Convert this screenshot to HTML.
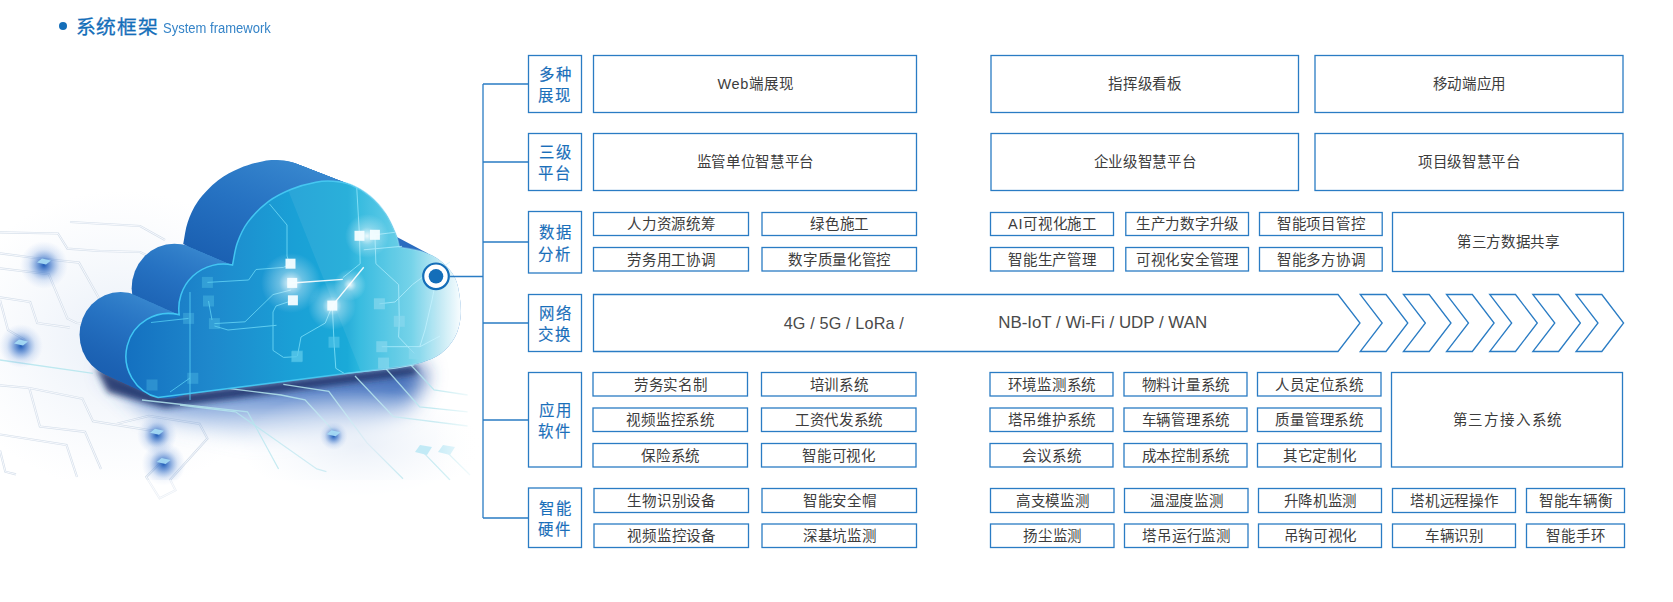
<!DOCTYPE html>
<html lang="zh-CN">
<head>
<meta charset="utf-8">
<style>
html,body{margin:0;padding:0;background:#fff;}
body{width:1673px;height:602px;position:relative;overflow:hidden;font-family:"Liberation Sans",sans-serif;}
svg{position:absolute;left:0;top:0;}
.t{position:absolute;display:flex;align-items:center;justify-content:center;padding-top:1px;box-sizing:border-box;color:#3c3c3c;font-size:14.5px;letter-spacing:0.7px;text-indent:0.7px;white-space:nowrap;line-height:1;}
.wide{letter-spacing:1.8px;text-indent:1.8px;}
.lb{position:absolute;color:#1a6fba;font-size:15.4px;line-height:21.5px;letter-spacing:2px;text-indent:2px;-webkit-text-stroke:0.15px #1a6fba;padding-top:2.5px;box-sizing:border-box;text-align:center;display:flex;align-items:center;justify-content:center;}
</style>
</head>
<body>
<svg width="480" height="602" viewBox="0 0 480 602">
<defs>
<linearGradient id="gBack" x1="90" y1="360" x2="360" y2="170" gradientUnits="userSpaceOnUse">
<stop offset="0" stop-color="#1b63b5"/><stop offset="0.55" stop-color="#1f6cbf"/><stop offset="1" stop-color="#3388cc"/>
</linearGradient>
<linearGradient id="gFace" x1="125" y1="0" x2="462" y2="0" gradientUnits="userSpaceOnUse">
<stop offset="0" stop-color="#1470c0"/><stop offset="0.25" stop-color="#1e88cc"/><stop offset="0.5" stop-color="#1aa0d6"/><stop offset="0.66" stop-color="#1aaad8"/><stop offset="0.7" stop-color="#2cb8de"/><stop offset="0.85" stop-color="#6cd0e8"/><stop offset="0.94" stop-color="#c4eaf5"/><stop offset="1" stop-color="#fbfeff"/>
</linearGradient>
<radialGradient id="gShadow" cx="0.5" cy="0.5" r="0.5">
<stop offset="0" stop-color="#2456a8" stop-opacity="0.95"/><stop offset="0.6" stop-color="#3a70c0" stop-opacity="0.5"/><stop offset="1" stop-color="#5a8ad0" stop-opacity="0"/>
</radialGradient>
<radialGradient id="gGlow" cx="0.5" cy="0.5" r="0.5">
<stop offset="0" stop-color="#1655b5" stop-opacity="0.95"/><stop offset="0.3" stop-color="#2a68c4" stop-opacity="0.6"/><stop offset="0.65" stop-color="#6090d8" stop-opacity="0.2"/><stop offset="1" stop-color="#90b0e8" stop-opacity="0"/>
</radialGradient>
<radialGradient id="gWGlow" cx="0.5" cy="0.5" r="0.5">
<stop offset="0" stop-color="#ffffff" stop-opacity="0.9"/><stop offset="0.4" stop-color="#ffffff" stop-opacity="0.35"/><stop offset="1" stop-color="#ffffff" stop-opacity="0"/>
</radialGradient>
<linearGradient id="gFade" x1="0" y1="0" x2="1" y2="0">
<stop offset="0" stop-color="#fff" stop-opacity="0"/><stop offset="1" stop-color="#fff" stop-opacity="1"/>
</linearGradient>
<filter id="blur3" x="-50%" y="-50%" width="200%" height="200%"><feGaussianBlur stdDeviation="3"/></filter>
<filter id="blur6" x="-50%" y="-100%" width="200%" height="300%"><feGaussianBlur stdDeviation="6"/></filter>
<filter id="blur10" x="-50%" y="-100%" width="200%" height="300%"><feGaussianBlur stdDeviation="10"/></filter>
</defs>
<radialGradient id="gWash" cx="0.5" cy="0.5" r="0.5"><stop offset="0" stop-color="#e6edf7" stop-opacity="0.9"/><stop offset="1" stop-color="#eef3fa" stop-opacity="0"/></radialGradient>
<ellipse cx="120" cy="340" rx="170" ry="150" fill="url(#gWash)"/>
<g fill="none" stroke="#d5dfea" stroke-width="2.2"><path d="M0,232.3 L58,233.5 L67.4,248.6 L100,251 L140,252 L160,262"/><path d="M70,222 L140,226 L165,240"/><path d="M0,253.3 L35,258 L79,262.6 L100,300 L118,303"/><path d="M0,268.4 L48.8,274.2 L67.4,318.4 L76.7,323 L95,325"/><path d="M0,297.4 L30.2,302 L37.2,323 L69.8,327.7"/><path d="M0,385.3 L29.3,388 L82.4,398.6 L93,421.2 L159.6,431.8"/><path d="M29.3,388 L39.9,426.5 L85,431.8 L101,469"/><path d="M0,434.5 L66.5,445 L77,477"/><path d="M0,450.4 L5.3,471.7 L16,474.4"/><path d="M117,423.8 L149,415.9 L199.5,423.8 L207.4,438.5 L170.2,479.7 L175.5,490.3 L159.6,498.3 L146.3,477 L162.2,461"/><path d="M0,300 L8,330 L25,340"/></g>
<g fill="none" stroke="#fafcff" stroke-width="0.9"><path d="M0,232.3 L58,233.5 L67.4,248.6 L100,251 L140,252 L160,262"/><path d="M70,222 L140,226 L165,240"/><path d="M0,253.3 L35,258 L79,262.6 L100,300 L118,303"/><path d="M0,268.4 L48.8,274.2 L67.4,318.4 L76.7,323 L95,325"/><path d="M0,297.4 L30.2,302 L37.2,323 L69.8,327.7"/><path d="M0,385.3 L29.3,388 L82.4,398.6 L93,421.2 L159.6,431.8"/><path d="M29.3,388 L39.9,426.5 L85,431.8 L101,469"/><path d="M0,434.5 L66.5,445 L77,477"/><path d="M0,450.4 L5.3,471.7 L16,474.4"/><path d="M117,423.8 L149,415.9 L199.5,423.8 L207.4,438.5 L170.2,479.7 L175.5,490.3 L159.6,498.3 L146.3,477 L162.2,461"/><path d="M0,300 L8,330 L25,340"/></g>
<linearGradient id="gSh" x1="0" y1="362" x2="0" y2="448" gradientUnits="userSpaceOnUse">
<stop offset="0" stop-color="#1e4594" stop-opacity="1"/><stop offset="0.3" stop-color="#3468bd" stop-opacity="0.9"/><stop offset="0.65" stop-color="#6a96d6" stop-opacity="0.5"/><stop offset="1" stop-color="#a0c0e8" stop-opacity="0"/>
</linearGradient>
<linearGradient id="gShX" x1="90" y1="0" x2="470" y2="0" gradientUnits="userSpaceOnUse">
<stop offset="0" stop-color="#fff" stop-opacity="1"/><stop offset="0.12" stop-color="#fff" stop-opacity="0"/><stop offset="0.85" stop-color="#fff" stop-opacity="0"/><stop offset="1" stop-color="#fff" stop-opacity="1"/>
</linearGradient>
<path d="M100,368 L160,394 L415,364 L428,372 L410,410 L360,432 L250,440 L150,415 Z" fill="url(#gSh)" filter="url(#blur10)"/>
<path d="M95,366 L160,396 L415,366 L418,374 L165,408 L108,392 Z" fill="#142a64" opacity="0.85" filter="url(#blur3)"/>
<g fill="none" stroke="#b4e6ee" stroke-width="1.3" opacity="0.85"><path d="M0,360 L93,373.3"/><path d="M142,400 L247.5,411.8 L278.6,469"/><path d="M223.5,387.8 L281,395 L305,399.8 L333.6,431"/><path d="M283.3,384.3 L328.8,391.4 L367,442.9 L403,478.8"/><path d="M355,376 L393.4,416.6 L467.6,426"/><path d="M386,368.7 L419.7,407 L467.6,411.8"/><path d="M410,364 L434,390 L467.6,395"/><path d="M180,405 L235.5,411.8 L316.8,469 L326.4,471.6"/><path d="M424.5,453.6 L450,480 M448.4,453.6 L470,475"/></g>
<ellipse cx="360" cy="445" rx="120" ry="55" fill="url(#gWash)" opacity="0.9"/>
<circle cx="44" cy="265" r="24" fill="url(#gGlow)"/>
<circle cx="21" cy="346" r="22" fill="url(#gGlow)"/>
<circle cx="157" cy="435" r="20" fill="url(#gGlow)"/>
<circle cx="163.6" cy="464" r="22" fill="url(#gGlow)"/>
<circle cx="333.6" cy="436" r="14" fill="url(#gGlow)"/>
<path d="M415,452 L420,445 L432,447 L427,455 Z M438,452 L443,445 L455,447 L450,455 Z" fill="#c2eaf6"/>
<path d="M37,262.5 L42,258.5 L51,260.5 L46,264.5 Z" fill="#a8def6" opacity="0.9"/>
<path d="M14,343.5 L19,339.5 L28,341.5 L23,345.5 Z" fill="#a8def6" opacity="0.9"/>
<path d="M150,432.8 L155,428.8 L164,430.8 L159,434.8 Z" fill="#a8def6" opacity="0.9"/>
<path d="M156.6,462 L161.6,458 L170.6,460 L165.6,464 Z" fill="#a8def6" opacity="0.9"/>
<path d="M326.6,434.3 L331.6,430.3 L340.6,432.3 L335.6,436.3 Z" fill="#a8def6" opacity="0.9"/>
<rect x="0" y="480" width="480" height="80" fill="#fff" opacity="0.5"/>
<rect x="432" y="340" width="48" height="200" fill="url(#gFade)"/>
<defs>
<linearGradient id="gCyl" x1="0.85" y1="0.05" x2="0.1" y2="0.95">
<stop offset="0" stop-color="#3a8ad0"/><stop offset="0.5" stop-color="#2672c2"/><stop offset="1" stop-color="#185cae"/>
</linearGradient></defs>
<g><g transform="matrix(0.9600,0,0,1,-40.00,-21.00)"><path fill="#1d64b4" d="M158.1,397.6 L167,356 L223,309 L320,290 L399.5,247.0 L405,365.9 Z"/><circle cx="167.2" cy="355.8" r="42.7" fill="url(#gCyl)"/><circle cx="223.4" cy="309.3" r="44.6" fill="url(#gCyl)"/><path d="M232.5,265.0 C234.1,257.8 234.7,250.4 237.2,243.3 C239.7,236.2 242.5,229.4 247.7,222.4 C252.9,215.4 261.3,206.9 268.6,201.4 C275.9,195.9 283.4,192.4 291.3,189.2 C299.2,186.0 308.8,183.5 315.8,182.2 C322.8,180.9 327.4,180.9 333.2,181.3 C339.0,181.7 344.6,182.3 350.7,184.8 C356.8,187.3 364.1,191.4 369.9,196.2 C375.7,201.0 381.2,207.2 385.6,213.6 C390.0,220.0 393.7,229.0 396.0,234.6 C398.3,240.2 398.3,242.9 399.5,247.0 L320,300 Z" fill="url(#gCyl)"/><path d="M399.5,247.0 C408.0,248.8 417.8,249.8 424.9,252.4 C432.0,255.0 437.4,258.2 442.4,262.4 C447.4,266.6 451.9,271.6 454.8,277.4 C457.7,283.2 458.9,290.5 459.8,297.3 C460.8,304.1 461.3,311.4 460.5,318.0 C459.7,324.6 458.2,331.1 455.0,337.0 C451.8,342.9 446.4,349.3 441.0,353.5 C435.6,357.7 428.4,360.1 422.4,362.2 C416.4,364.3 410.8,364.7 405.0,365.9 L380,330 Z" fill="url(#gCyl)"/></g><g transform="matrix(0.9610,0,0,1,-38.97,-20.46)"><path fill="#1d64b4" d="M158.1,397.6 L167,356 L223,309 L320,290 L399.5,247.0 L405,365.9 Z"/><circle cx="167.2" cy="355.8" r="42.7" fill="url(#gCyl)"/><circle cx="223.4" cy="309.3" r="44.6" fill="url(#gCyl)"/><path d="M232.5,265.0 C234.1,257.8 234.7,250.4 237.2,243.3 C239.7,236.2 242.5,229.4 247.7,222.4 C252.9,215.4 261.3,206.9 268.6,201.4 C275.9,195.9 283.4,192.4 291.3,189.2 C299.2,186.0 308.8,183.5 315.8,182.2 C322.8,180.9 327.4,180.9 333.2,181.3 C339.0,181.7 344.6,182.3 350.7,184.8 C356.8,187.3 364.1,191.4 369.9,196.2 C375.7,201.0 381.2,207.2 385.6,213.6 C390.0,220.0 393.7,229.0 396.0,234.6 C398.3,240.2 398.3,242.9 399.5,247.0 L320,300 Z" fill="url(#gCyl)"/><path d="M399.5,247.0 C408.0,248.8 417.8,249.8 424.9,252.4 C432.0,255.0 437.4,258.2 442.4,262.4 C447.4,266.6 451.9,271.6 454.8,277.4 C457.7,283.2 458.9,290.5 459.8,297.3 C460.8,304.1 461.3,311.4 460.5,318.0 C459.7,324.6 458.2,331.1 455.0,337.0 C451.8,342.9 446.4,349.3 441.0,353.5 C435.6,357.7 428.4,360.1 422.4,362.2 C416.4,364.3 410.8,364.7 405.0,365.9 L380,330 Z" fill="url(#gCyl)"/></g><g transform="matrix(0.9621,0,0,1,-37.95,-19.92)"><path fill="#1d64b4" d="M158.1,397.6 L167,356 L223,309 L320,290 L399.5,247.0 L405,365.9 Z"/><circle cx="167.2" cy="355.8" r="42.7" fill="url(#gCyl)"/><circle cx="223.4" cy="309.3" r="44.6" fill="url(#gCyl)"/><path d="M232.5,265.0 C234.1,257.8 234.7,250.4 237.2,243.3 C239.7,236.2 242.5,229.4 247.7,222.4 C252.9,215.4 261.3,206.9 268.6,201.4 C275.9,195.9 283.4,192.4 291.3,189.2 C299.2,186.0 308.8,183.5 315.8,182.2 C322.8,180.9 327.4,180.9 333.2,181.3 C339.0,181.7 344.6,182.3 350.7,184.8 C356.8,187.3 364.1,191.4 369.9,196.2 C375.7,201.0 381.2,207.2 385.6,213.6 C390.0,220.0 393.7,229.0 396.0,234.6 C398.3,240.2 398.3,242.9 399.5,247.0 L320,300 Z" fill="url(#gCyl)"/><path d="M399.5,247.0 C408.0,248.8 417.8,249.8 424.9,252.4 C432.0,255.0 437.4,258.2 442.4,262.4 C447.4,266.6 451.9,271.6 454.8,277.4 C457.7,283.2 458.9,290.5 459.8,297.3 C460.8,304.1 461.3,311.4 460.5,318.0 C459.7,324.6 458.2,331.1 455.0,337.0 C451.8,342.9 446.4,349.3 441.0,353.5 C435.6,357.7 428.4,360.1 422.4,362.2 C416.4,364.3 410.8,364.7 405.0,365.9 L380,330 Z" fill="url(#gCyl)"/></g><g transform="matrix(0.9631,0,0,1,-36.92,-19.38)"><path fill="#1d64b4" d="M158.1,397.6 L167,356 L223,309 L320,290 L399.5,247.0 L405,365.9 Z"/><circle cx="167.2" cy="355.8" r="42.7" fill="url(#gCyl)"/><circle cx="223.4" cy="309.3" r="44.6" fill="url(#gCyl)"/><path d="M232.5,265.0 C234.1,257.8 234.7,250.4 237.2,243.3 C239.7,236.2 242.5,229.4 247.7,222.4 C252.9,215.4 261.3,206.9 268.6,201.4 C275.9,195.9 283.4,192.4 291.3,189.2 C299.2,186.0 308.8,183.5 315.8,182.2 C322.8,180.9 327.4,180.9 333.2,181.3 C339.0,181.7 344.6,182.3 350.7,184.8 C356.8,187.3 364.1,191.4 369.9,196.2 C375.7,201.0 381.2,207.2 385.6,213.6 C390.0,220.0 393.7,229.0 396.0,234.6 C398.3,240.2 398.3,242.9 399.5,247.0 L320,300 Z" fill="url(#gCyl)"/><path d="M399.5,247.0 C408.0,248.8 417.8,249.8 424.9,252.4 C432.0,255.0 437.4,258.2 442.4,262.4 C447.4,266.6 451.9,271.6 454.8,277.4 C457.7,283.2 458.9,290.5 459.8,297.3 C460.8,304.1 461.3,311.4 460.5,318.0 C459.7,324.6 458.2,331.1 455.0,337.0 C451.8,342.9 446.4,349.3 441.0,353.5 C435.6,357.7 428.4,360.1 422.4,362.2 C416.4,364.3 410.8,364.7 405.0,365.9 L380,330 Z" fill="url(#gCyl)"/></g><g transform="matrix(0.9641,0,0,1,-35.90,-18.85)"><path fill="#1d64b4" d="M158.1,397.6 L167,356 L223,309 L320,290 L399.5,247.0 L405,365.9 Z"/><circle cx="167.2" cy="355.8" r="42.7" fill="url(#gCyl)"/><circle cx="223.4" cy="309.3" r="44.6" fill="url(#gCyl)"/><path d="M232.5,265.0 C234.1,257.8 234.7,250.4 237.2,243.3 C239.7,236.2 242.5,229.4 247.7,222.4 C252.9,215.4 261.3,206.9 268.6,201.4 C275.9,195.9 283.4,192.4 291.3,189.2 C299.2,186.0 308.8,183.5 315.8,182.2 C322.8,180.9 327.4,180.9 333.2,181.3 C339.0,181.7 344.6,182.3 350.7,184.8 C356.8,187.3 364.1,191.4 369.9,196.2 C375.7,201.0 381.2,207.2 385.6,213.6 C390.0,220.0 393.7,229.0 396.0,234.6 C398.3,240.2 398.3,242.9 399.5,247.0 L320,300 Z" fill="url(#gCyl)"/><path d="M399.5,247.0 C408.0,248.8 417.8,249.8 424.9,252.4 C432.0,255.0 437.4,258.2 442.4,262.4 C447.4,266.6 451.9,271.6 454.8,277.4 C457.7,283.2 458.9,290.5 459.8,297.3 C460.8,304.1 461.3,311.4 460.5,318.0 C459.7,324.6 458.2,331.1 455.0,337.0 C451.8,342.9 446.4,349.3 441.0,353.5 C435.6,357.7 428.4,360.1 422.4,362.2 C416.4,364.3 410.8,364.7 405.0,365.9 L380,330 Z" fill="url(#gCyl)"/></g><g transform="matrix(0.9651,0,0,1,-34.87,-18.31)"><path fill="#1d64b4" d="M158.1,397.6 L167,356 L223,309 L320,290 L399.5,247.0 L405,365.9 Z"/><circle cx="167.2" cy="355.8" r="42.7" fill="url(#gCyl)"/><circle cx="223.4" cy="309.3" r="44.6" fill="url(#gCyl)"/><path d="M232.5,265.0 C234.1,257.8 234.7,250.4 237.2,243.3 C239.7,236.2 242.5,229.4 247.7,222.4 C252.9,215.4 261.3,206.9 268.6,201.4 C275.9,195.9 283.4,192.4 291.3,189.2 C299.2,186.0 308.8,183.5 315.8,182.2 C322.8,180.9 327.4,180.9 333.2,181.3 C339.0,181.7 344.6,182.3 350.7,184.8 C356.8,187.3 364.1,191.4 369.9,196.2 C375.7,201.0 381.2,207.2 385.6,213.6 C390.0,220.0 393.7,229.0 396.0,234.6 C398.3,240.2 398.3,242.9 399.5,247.0 L320,300 Z" fill="url(#gCyl)"/><path d="M399.5,247.0 C408.0,248.8 417.8,249.8 424.9,252.4 C432.0,255.0 437.4,258.2 442.4,262.4 C447.4,266.6 451.9,271.6 454.8,277.4 C457.7,283.2 458.9,290.5 459.8,297.3 C460.8,304.1 461.3,311.4 460.5,318.0 C459.7,324.6 458.2,331.1 455.0,337.0 C451.8,342.9 446.4,349.3 441.0,353.5 C435.6,357.7 428.4,360.1 422.4,362.2 C416.4,364.3 410.8,364.7 405.0,365.9 L380,330 Z" fill="url(#gCyl)"/></g><g transform="matrix(0.9662,0,0,1,-33.85,-17.77)"><path fill="#1d64b4" d="M158.1,397.6 L167,356 L223,309 L320,290 L399.5,247.0 L405,365.9 Z"/><circle cx="167.2" cy="355.8" r="42.7" fill="url(#gCyl)"/><circle cx="223.4" cy="309.3" r="44.6" fill="url(#gCyl)"/><path d="M232.5,265.0 C234.1,257.8 234.7,250.4 237.2,243.3 C239.7,236.2 242.5,229.4 247.7,222.4 C252.9,215.4 261.3,206.9 268.6,201.4 C275.9,195.9 283.4,192.4 291.3,189.2 C299.2,186.0 308.8,183.5 315.8,182.2 C322.8,180.9 327.4,180.9 333.2,181.3 C339.0,181.7 344.6,182.3 350.7,184.8 C356.8,187.3 364.1,191.4 369.9,196.2 C375.7,201.0 381.2,207.2 385.6,213.6 C390.0,220.0 393.7,229.0 396.0,234.6 C398.3,240.2 398.3,242.9 399.5,247.0 L320,300 Z" fill="url(#gCyl)"/><path d="M399.5,247.0 C408.0,248.8 417.8,249.8 424.9,252.4 C432.0,255.0 437.4,258.2 442.4,262.4 C447.4,266.6 451.9,271.6 454.8,277.4 C457.7,283.2 458.9,290.5 459.8,297.3 C460.8,304.1 461.3,311.4 460.5,318.0 C459.7,324.6 458.2,331.1 455.0,337.0 C451.8,342.9 446.4,349.3 441.0,353.5 C435.6,357.7 428.4,360.1 422.4,362.2 C416.4,364.3 410.8,364.7 405.0,365.9 L380,330 Z" fill="url(#gCyl)"/></g><g transform="matrix(0.9672,0,0,1,-32.82,-17.23)"><path fill="#1d64b4" d="M158.1,397.6 L167,356 L223,309 L320,290 L399.5,247.0 L405,365.9 Z"/><circle cx="167.2" cy="355.8" r="42.7" fill="url(#gCyl)"/><circle cx="223.4" cy="309.3" r="44.6" fill="url(#gCyl)"/><path d="M232.5,265.0 C234.1,257.8 234.7,250.4 237.2,243.3 C239.7,236.2 242.5,229.4 247.7,222.4 C252.9,215.4 261.3,206.9 268.6,201.4 C275.9,195.9 283.4,192.4 291.3,189.2 C299.2,186.0 308.8,183.5 315.8,182.2 C322.8,180.9 327.4,180.9 333.2,181.3 C339.0,181.7 344.6,182.3 350.7,184.8 C356.8,187.3 364.1,191.4 369.9,196.2 C375.7,201.0 381.2,207.2 385.6,213.6 C390.0,220.0 393.7,229.0 396.0,234.6 C398.3,240.2 398.3,242.9 399.5,247.0 L320,300 Z" fill="url(#gCyl)"/><path d="M399.5,247.0 C408.0,248.8 417.8,249.8 424.9,252.4 C432.0,255.0 437.4,258.2 442.4,262.4 C447.4,266.6 451.9,271.6 454.8,277.4 C457.7,283.2 458.9,290.5 459.8,297.3 C460.8,304.1 461.3,311.4 460.5,318.0 C459.7,324.6 458.2,331.1 455.0,337.0 C451.8,342.9 446.4,349.3 441.0,353.5 C435.6,357.7 428.4,360.1 422.4,362.2 C416.4,364.3 410.8,364.7 405.0,365.9 L380,330 Z" fill="url(#gCyl)"/></g><g transform="matrix(0.9682,0,0,1,-31.79,-16.69)"><path fill="#1d64b4" d="M158.1,397.6 L167,356 L223,309 L320,290 L399.5,247.0 L405,365.9 Z"/><circle cx="167.2" cy="355.8" r="42.7" fill="url(#gCyl)"/><circle cx="223.4" cy="309.3" r="44.6" fill="url(#gCyl)"/><path d="M232.5,265.0 C234.1,257.8 234.7,250.4 237.2,243.3 C239.7,236.2 242.5,229.4 247.7,222.4 C252.9,215.4 261.3,206.9 268.6,201.4 C275.9,195.9 283.4,192.4 291.3,189.2 C299.2,186.0 308.8,183.5 315.8,182.2 C322.8,180.9 327.4,180.9 333.2,181.3 C339.0,181.7 344.6,182.3 350.7,184.8 C356.8,187.3 364.1,191.4 369.9,196.2 C375.7,201.0 381.2,207.2 385.6,213.6 C390.0,220.0 393.7,229.0 396.0,234.6 C398.3,240.2 398.3,242.9 399.5,247.0 L320,300 Z" fill="url(#gCyl)"/><path d="M399.5,247.0 C408.0,248.8 417.8,249.8 424.9,252.4 C432.0,255.0 437.4,258.2 442.4,262.4 C447.4,266.6 451.9,271.6 454.8,277.4 C457.7,283.2 458.9,290.5 459.8,297.3 C460.8,304.1 461.3,311.4 460.5,318.0 C459.7,324.6 458.2,331.1 455.0,337.0 C451.8,342.9 446.4,349.3 441.0,353.5 C435.6,357.7 428.4,360.1 422.4,362.2 C416.4,364.3 410.8,364.7 405.0,365.9 L380,330 Z" fill="url(#gCyl)"/></g><g transform="matrix(0.9692,0,0,1,-30.77,-16.15)"><path fill="#1d64b4" d="M158.1,397.6 L167,356 L223,309 L320,290 L399.5,247.0 L405,365.9 Z"/><circle cx="167.2" cy="355.8" r="42.7" fill="url(#gCyl)"/><circle cx="223.4" cy="309.3" r="44.6" fill="url(#gCyl)"/><path d="M232.5,265.0 C234.1,257.8 234.7,250.4 237.2,243.3 C239.7,236.2 242.5,229.4 247.7,222.4 C252.9,215.4 261.3,206.9 268.6,201.4 C275.9,195.9 283.4,192.4 291.3,189.2 C299.2,186.0 308.8,183.5 315.8,182.2 C322.8,180.9 327.4,180.9 333.2,181.3 C339.0,181.7 344.6,182.3 350.7,184.8 C356.8,187.3 364.1,191.4 369.9,196.2 C375.7,201.0 381.2,207.2 385.6,213.6 C390.0,220.0 393.7,229.0 396.0,234.6 C398.3,240.2 398.3,242.9 399.5,247.0 L320,300 Z" fill="url(#gCyl)"/><path d="M399.5,247.0 C408.0,248.8 417.8,249.8 424.9,252.4 C432.0,255.0 437.4,258.2 442.4,262.4 C447.4,266.6 451.9,271.6 454.8,277.4 C457.7,283.2 458.9,290.5 459.8,297.3 C460.8,304.1 461.3,311.4 460.5,318.0 C459.7,324.6 458.2,331.1 455.0,337.0 C451.8,342.9 446.4,349.3 441.0,353.5 C435.6,357.7 428.4,360.1 422.4,362.2 C416.4,364.3 410.8,364.7 405.0,365.9 L380,330 Z" fill="url(#gCyl)"/></g><g transform="matrix(0.9703,0,0,1,-29.74,-15.62)"><path fill="#1d64b4" d="M158.1,397.6 L167,356 L223,309 L320,290 L399.5,247.0 L405,365.9 Z"/><circle cx="167.2" cy="355.8" r="42.7" fill="url(#gCyl)"/><circle cx="223.4" cy="309.3" r="44.6" fill="url(#gCyl)"/><path d="M232.5,265.0 C234.1,257.8 234.7,250.4 237.2,243.3 C239.7,236.2 242.5,229.4 247.7,222.4 C252.9,215.4 261.3,206.9 268.6,201.4 C275.9,195.9 283.4,192.4 291.3,189.2 C299.2,186.0 308.8,183.5 315.8,182.2 C322.8,180.9 327.4,180.9 333.2,181.3 C339.0,181.7 344.6,182.3 350.7,184.8 C356.8,187.3 364.1,191.4 369.9,196.2 C375.7,201.0 381.2,207.2 385.6,213.6 C390.0,220.0 393.7,229.0 396.0,234.6 C398.3,240.2 398.3,242.9 399.5,247.0 L320,300 Z" fill="url(#gCyl)"/><path d="M399.5,247.0 C408.0,248.8 417.8,249.8 424.9,252.4 C432.0,255.0 437.4,258.2 442.4,262.4 C447.4,266.6 451.9,271.6 454.8,277.4 C457.7,283.2 458.9,290.5 459.8,297.3 C460.8,304.1 461.3,311.4 460.5,318.0 C459.7,324.6 458.2,331.1 455.0,337.0 C451.8,342.9 446.4,349.3 441.0,353.5 C435.6,357.7 428.4,360.1 422.4,362.2 C416.4,364.3 410.8,364.7 405.0,365.9 L380,330 Z" fill="url(#gCyl)"/></g><g transform="matrix(0.9713,0,0,1,-28.72,-15.08)"><path fill="#1d64b4" d="M158.1,397.6 L167,356 L223,309 L320,290 L399.5,247.0 L405,365.9 Z"/><circle cx="167.2" cy="355.8" r="42.7" fill="url(#gCyl)"/><circle cx="223.4" cy="309.3" r="44.6" fill="url(#gCyl)"/><path d="M232.5,265.0 C234.1,257.8 234.7,250.4 237.2,243.3 C239.7,236.2 242.5,229.4 247.7,222.4 C252.9,215.4 261.3,206.9 268.6,201.4 C275.9,195.9 283.4,192.4 291.3,189.2 C299.2,186.0 308.8,183.5 315.8,182.2 C322.8,180.9 327.4,180.9 333.2,181.3 C339.0,181.7 344.6,182.3 350.7,184.8 C356.8,187.3 364.1,191.4 369.9,196.2 C375.7,201.0 381.2,207.2 385.6,213.6 C390.0,220.0 393.7,229.0 396.0,234.6 C398.3,240.2 398.3,242.9 399.5,247.0 L320,300 Z" fill="url(#gCyl)"/><path d="M399.5,247.0 C408.0,248.8 417.8,249.8 424.9,252.4 C432.0,255.0 437.4,258.2 442.4,262.4 C447.4,266.6 451.9,271.6 454.8,277.4 C457.7,283.2 458.9,290.5 459.8,297.3 C460.8,304.1 461.3,311.4 460.5,318.0 C459.7,324.6 458.2,331.1 455.0,337.0 C451.8,342.9 446.4,349.3 441.0,353.5 C435.6,357.7 428.4,360.1 422.4,362.2 C416.4,364.3 410.8,364.7 405.0,365.9 L380,330 Z" fill="url(#gCyl)"/></g><g transform="matrix(0.9723,0,0,1,-27.69,-14.54)"><path fill="#1d64b4" d="M158.1,397.6 L167,356 L223,309 L320,290 L399.5,247.0 L405,365.9 Z"/><circle cx="167.2" cy="355.8" r="42.7" fill="url(#gCyl)"/><circle cx="223.4" cy="309.3" r="44.6" fill="url(#gCyl)"/><path d="M232.5,265.0 C234.1,257.8 234.7,250.4 237.2,243.3 C239.7,236.2 242.5,229.4 247.7,222.4 C252.9,215.4 261.3,206.9 268.6,201.4 C275.9,195.9 283.4,192.4 291.3,189.2 C299.2,186.0 308.8,183.5 315.8,182.2 C322.8,180.9 327.4,180.9 333.2,181.3 C339.0,181.7 344.6,182.3 350.7,184.8 C356.8,187.3 364.1,191.4 369.9,196.2 C375.7,201.0 381.2,207.2 385.6,213.6 C390.0,220.0 393.7,229.0 396.0,234.6 C398.3,240.2 398.3,242.9 399.5,247.0 L320,300 Z" fill="url(#gCyl)"/><path d="M399.5,247.0 C408.0,248.8 417.8,249.8 424.9,252.4 C432.0,255.0 437.4,258.2 442.4,262.4 C447.4,266.6 451.9,271.6 454.8,277.4 C457.7,283.2 458.9,290.5 459.8,297.3 C460.8,304.1 461.3,311.4 460.5,318.0 C459.7,324.6 458.2,331.1 455.0,337.0 C451.8,342.9 446.4,349.3 441.0,353.5 C435.6,357.7 428.4,360.1 422.4,362.2 C416.4,364.3 410.8,364.7 405.0,365.9 L380,330 Z" fill="url(#gCyl)"/></g><g transform="matrix(0.9733,0,0,1,-26.67,-14.00)"><path fill="#1d64b4" d="M158.1,397.6 L167,356 L223,309 L320,290 L399.5,247.0 L405,365.9 Z"/><circle cx="167.2" cy="355.8" r="42.7" fill="url(#gCyl)"/><circle cx="223.4" cy="309.3" r="44.6" fill="url(#gCyl)"/><path d="M232.5,265.0 C234.1,257.8 234.7,250.4 237.2,243.3 C239.7,236.2 242.5,229.4 247.7,222.4 C252.9,215.4 261.3,206.9 268.6,201.4 C275.9,195.9 283.4,192.4 291.3,189.2 C299.2,186.0 308.8,183.5 315.8,182.2 C322.8,180.9 327.4,180.9 333.2,181.3 C339.0,181.7 344.6,182.3 350.7,184.8 C356.8,187.3 364.1,191.4 369.9,196.2 C375.7,201.0 381.2,207.2 385.6,213.6 C390.0,220.0 393.7,229.0 396.0,234.6 C398.3,240.2 398.3,242.9 399.5,247.0 L320,300 Z" fill="url(#gCyl)"/><path d="M399.5,247.0 C408.0,248.8 417.8,249.8 424.9,252.4 C432.0,255.0 437.4,258.2 442.4,262.4 C447.4,266.6 451.9,271.6 454.8,277.4 C457.7,283.2 458.9,290.5 459.8,297.3 C460.8,304.1 461.3,311.4 460.5,318.0 C459.7,324.6 458.2,331.1 455.0,337.0 C451.8,342.9 446.4,349.3 441.0,353.5 C435.6,357.7 428.4,360.1 422.4,362.2 C416.4,364.3 410.8,364.7 405.0,365.9 L380,330 Z" fill="url(#gCyl)"/></g><g transform="matrix(0.9744,0,0,1,-25.64,-13.46)"><path fill="#1d64b4" d="M158.1,397.6 L167,356 L223,309 L320,290 L399.5,247.0 L405,365.9 Z"/><circle cx="167.2" cy="355.8" r="42.7" fill="url(#gCyl)"/><circle cx="223.4" cy="309.3" r="44.6" fill="url(#gCyl)"/><path d="M232.5,265.0 C234.1,257.8 234.7,250.4 237.2,243.3 C239.7,236.2 242.5,229.4 247.7,222.4 C252.9,215.4 261.3,206.9 268.6,201.4 C275.9,195.9 283.4,192.4 291.3,189.2 C299.2,186.0 308.8,183.5 315.8,182.2 C322.8,180.9 327.4,180.9 333.2,181.3 C339.0,181.7 344.6,182.3 350.7,184.8 C356.8,187.3 364.1,191.4 369.9,196.2 C375.7,201.0 381.2,207.2 385.6,213.6 C390.0,220.0 393.7,229.0 396.0,234.6 C398.3,240.2 398.3,242.9 399.5,247.0 L320,300 Z" fill="url(#gCyl)"/><path d="M399.5,247.0 C408.0,248.8 417.8,249.8 424.9,252.4 C432.0,255.0 437.4,258.2 442.4,262.4 C447.4,266.6 451.9,271.6 454.8,277.4 C457.7,283.2 458.9,290.5 459.8,297.3 C460.8,304.1 461.3,311.4 460.5,318.0 C459.7,324.6 458.2,331.1 455.0,337.0 C451.8,342.9 446.4,349.3 441.0,353.5 C435.6,357.7 428.4,360.1 422.4,362.2 C416.4,364.3 410.8,364.7 405.0,365.9 L380,330 Z" fill="url(#gCyl)"/></g><g transform="matrix(0.9754,0,0,1,-24.62,-12.92)"><path fill="#1d64b4" d="M158.1,397.6 L167,356 L223,309 L320,290 L399.5,247.0 L405,365.9 Z"/><circle cx="167.2" cy="355.8" r="42.7" fill="url(#gCyl)"/><circle cx="223.4" cy="309.3" r="44.6" fill="url(#gCyl)"/><path d="M232.5,265.0 C234.1,257.8 234.7,250.4 237.2,243.3 C239.7,236.2 242.5,229.4 247.7,222.4 C252.9,215.4 261.3,206.9 268.6,201.4 C275.9,195.9 283.4,192.4 291.3,189.2 C299.2,186.0 308.8,183.5 315.8,182.2 C322.8,180.9 327.4,180.9 333.2,181.3 C339.0,181.7 344.6,182.3 350.7,184.8 C356.8,187.3 364.1,191.4 369.9,196.2 C375.7,201.0 381.2,207.2 385.6,213.6 C390.0,220.0 393.7,229.0 396.0,234.6 C398.3,240.2 398.3,242.9 399.5,247.0 L320,300 Z" fill="url(#gCyl)"/><path d="M399.5,247.0 C408.0,248.8 417.8,249.8 424.9,252.4 C432.0,255.0 437.4,258.2 442.4,262.4 C447.4,266.6 451.9,271.6 454.8,277.4 C457.7,283.2 458.9,290.5 459.8,297.3 C460.8,304.1 461.3,311.4 460.5,318.0 C459.7,324.6 458.2,331.1 455.0,337.0 C451.8,342.9 446.4,349.3 441.0,353.5 C435.6,357.7 428.4,360.1 422.4,362.2 C416.4,364.3 410.8,364.7 405.0,365.9 L380,330 Z" fill="url(#gCyl)"/></g><g transform="matrix(0.9764,0,0,1,-23.59,-12.38)"><path fill="#1d64b4" d="M158.1,397.6 L167,356 L223,309 L320,290 L399.5,247.0 L405,365.9 Z"/><circle cx="167.2" cy="355.8" r="42.7" fill="url(#gCyl)"/><circle cx="223.4" cy="309.3" r="44.6" fill="url(#gCyl)"/><path d="M232.5,265.0 C234.1,257.8 234.7,250.4 237.2,243.3 C239.7,236.2 242.5,229.4 247.7,222.4 C252.9,215.4 261.3,206.9 268.6,201.4 C275.9,195.9 283.4,192.4 291.3,189.2 C299.2,186.0 308.8,183.5 315.8,182.2 C322.8,180.9 327.4,180.9 333.2,181.3 C339.0,181.7 344.6,182.3 350.7,184.8 C356.8,187.3 364.1,191.4 369.9,196.2 C375.7,201.0 381.2,207.2 385.6,213.6 C390.0,220.0 393.7,229.0 396.0,234.6 C398.3,240.2 398.3,242.9 399.5,247.0 L320,300 Z" fill="url(#gCyl)"/><path d="M399.5,247.0 C408.0,248.8 417.8,249.8 424.9,252.4 C432.0,255.0 437.4,258.2 442.4,262.4 C447.4,266.6 451.9,271.6 454.8,277.4 C457.7,283.2 458.9,290.5 459.8,297.3 C460.8,304.1 461.3,311.4 460.5,318.0 C459.7,324.6 458.2,331.1 455.0,337.0 C451.8,342.9 446.4,349.3 441.0,353.5 C435.6,357.7 428.4,360.1 422.4,362.2 C416.4,364.3 410.8,364.7 405.0,365.9 L380,330 Z" fill="url(#gCyl)"/></g><g transform="matrix(0.9774,0,0,1,-22.56,-11.85)"><path fill="#1d64b4" d="M158.1,397.6 L167,356 L223,309 L320,290 L399.5,247.0 L405,365.9 Z"/><circle cx="167.2" cy="355.8" r="42.7" fill="url(#gCyl)"/><circle cx="223.4" cy="309.3" r="44.6" fill="url(#gCyl)"/><path d="M232.5,265.0 C234.1,257.8 234.7,250.4 237.2,243.3 C239.7,236.2 242.5,229.4 247.7,222.4 C252.9,215.4 261.3,206.9 268.6,201.4 C275.9,195.9 283.4,192.4 291.3,189.2 C299.2,186.0 308.8,183.5 315.8,182.2 C322.8,180.9 327.4,180.9 333.2,181.3 C339.0,181.7 344.6,182.3 350.7,184.8 C356.8,187.3 364.1,191.4 369.9,196.2 C375.7,201.0 381.2,207.2 385.6,213.6 C390.0,220.0 393.7,229.0 396.0,234.6 C398.3,240.2 398.3,242.9 399.5,247.0 L320,300 Z" fill="url(#gCyl)"/><path d="M399.5,247.0 C408.0,248.8 417.8,249.8 424.9,252.4 C432.0,255.0 437.4,258.2 442.4,262.4 C447.4,266.6 451.9,271.6 454.8,277.4 C457.7,283.2 458.9,290.5 459.8,297.3 C460.8,304.1 461.3,311.4 460.5,318.0 C459.7,324.6 458.2,331.1 455.0,337.0 C451.8,342.9 446.4,349.3 441.0,353.5 C435.6,357.7 428.4,360.1 422.4,362.2 C416.4,364.3 410.8,364.7 405.0,365.9 L380,330 Z" fill="url(#gCyl)"/></g><g transform="matrix(0.9785,0,0,1,-21.54,-11.31)"><path fill="#1d64b4" d="M158.1,397.6 L167,356 L223,309 L320,290 L399.5,247.0 L405,365.9 Z"/><circle cx="167.2" cy="355.8" r="42.7" fill="url(#gCyl)"/><circle cx="223.4" cy="309.3" r="44.6" fill="url(#gCyl)"/><path d="M232.5,265.0 C234.1,257.8 234.7,250.4 237.2,243.3 C239.7,236.2 242.5,229.4 247.7,222.4 C252.9,215.4 261.3,206.9 268.6,201.4 C275.9,195.9 283.4,192.4 291.3,189.2 C299.2,186.0 308.8,183.5 315.8,182.2 C322.8,180.9 327.4,180.9 333.2,181.3 C339.0,181.7 344.6,182.3 350.7,184.8 C356.8,187.3 364.1,191.4 369.9,196.2 C375.7,201.0 381.2,207.2 385.6,213.6 C390.0,220.0 393.7,229.0 396.0,234.6 C398.3,240.2 398.3,242.9 399.5,247.0 L320,300 Z" fill="url(#gCyl)"/><path d="M399.5,247.0 C408.0,248.8 417.8,249.8 424.9,252.4 C432.0,255.0 437.4,258.2 442.4,262.4 C447.4,266.6 451.9,271.6 454.8,277.4 C457.7,283.2 458.9,290.5 459.8,297.3 C460.8,304.1 461.3,311.4 460.5,318.0 C459.7,324.6 458.2,331.1 455.0,337.0 C451.8,342.9 446.4,349.3 441.0,353.5 C435.6,357.7 428.4,360.1 422.4,362.2 C416.4,364.3 410.8,364.7 405.0,365.9 L380,330 Z" fill="url(#gCyl)"/></g><g transform="matrix(0.9795,0,0,1,-20.51,-10.77)"><path fill="#1d64b4" d="M158.1,397.6 L167,356 L223,309 L320,290 L399.5,247.0 L405,365.9 Z"/><circle cx="167.2" cy="355.8" r="42.7" fill="url(#gCyl)"/><circle cx="223.4" cy="309.3" r="44.6" fill="url(#gCyl)"/><path d="M232.5,265.0 C234.1,257.8 234.7,250.4 237.2,243.3 C239.7,236.2 242.5,229.4 247.7,222.4 C252.9,215.4 261.3,206.9 268.6,201.4 C275.9,195.9 283.4,192.4 291.3,189.2 C299.2,186.0 308.8,183.5 315.8,182.2 C322.8,180.9 327.4,180.9 333.2,181.3 C339.0,181.7 344.6,182.3 350.7,184.8 C356.8,187.3 364.1,191.4 369.9,196.2 C375.7,201.0 381.2,207.2 385.6,213.6 C390.0,220.0 393.7,229.0 396.0,234.6 C398.3,240.2 398.3,242.9 399.5,247.0 L320,300 Z" fill="url(#gCyl)"/><path d="M399.5,247.0 C408.0,248.8 417.8,249.8 424.9,252.4 C432.0,255.0 437.4,258.2 442.4,262.4 C447.4,266.6 451.9,271.6 454.8,277.4 C457.7,283.2 458.9,290.5 459.8,297.3 C460.8,304.1 461.3,311.4 460.5,318.0 C459.7,324.6 458.2,331.1 455.0,337.0 C451.8,342.9 446.4,349.3 441.0,353.5 C435.6,357.7 428.4,360.1 422.4,362.2 C416.4,364.3 410.8,364.7 405.0,365.9 L380,330 Z" fill="url(#gCyl)"/></g><g transform="matrix(0.9805,0,0,1,-19.49,-10.23)"><path fill="#1d64b4" d="M158.1,397.6 L167,356 L223,309 L320,290 L399.5,247.0 L405,365.9 Z"/><circle cx="167.2" cy="355.8" r="42.7" fill="url(#gCyl)"/><circle cx="223.4" cy="309.3" r="44.6" fill="url(#gCyl)"/><path d="M232.5,265.0 C234.1,257.8 234.7,250.4 237.2,243.3 C239.7,236.2 242.5,229.4 247.7,222.4 C252.9,215.4 261.3,206.9 268.6,201.4 C275.9,195.9 283.4,192.4 291.3,189.2 C299.2,186.0 308.8,183.5 315.8,182.2 C322.8,180.9 327.4,180.9 333.2,181.3 C339.0,181.7 344.6,182.3 350.7,184.8 C356.8,187.3 364.1,191.4 369.9,196.2 C375.7,201.0 381.2,207.2 385.6,213.6 C390.0,220.0 393.7,229.0 396.0,234.6 C398.3,240.2 398.3,242.9 399.5,247.0 L320,300 Z" fill="url(#gCyl)"/><path d="M399.5,247.0 C408.0,248.8 417.8,249.8 424.9,252.4 C432.0,255.0 437.4,258.2 442.4,262.4 C447.4,266.6 451.9,271.6 454.8,277.4 C457.7,283.2 458.9,290.5 459.8,297.3 C460.8,304.1 461.3,311.4 460.5,318.0 C459.7,324.6 458.2,331.1 455.0,337.0 C451.8,342.9 446.4,349.3 441.0,353.5 C435.6,357.7 428.4,360.1 422.4,362.2 C416.4,364.3 410.8,364.7 405.0,365.9 L380,330 Z" fill="url(#gCyl)"/></g><g transform="matrix(0.9815,0,0,1,-18.46,-9.69)"><path fill="#1d64b4" d="M158.1,397.6 L167,356 L223,309 L320,290 L399.5,247.0 L405,365.9 Z"/><circle cx="167.2" cy="355.8" r="42.7" fill="url(#gCyl)"/><circle cx="223.4" cy="309.3" r="44.6" fill="url(#gCyl)"/><path d="M232.5,265.0 C234.1,257.8 234.7,250.4 237.2,243.3 C239.7,236.2 242.5,229.4 247.7,222.4 C252.9,215.4 261.3,206.9 268.6,201.4 C275.9,195.9 283.4,192.4 291.3,189.2 C299.2,186.0 308.8,183.5 315.8,182.2 C322.8,180.9 327.4,180.9 333.2,181.3 C339.0,181.7 344.6,182.3 350.7,184.8 C356.8,187.3 364.1,191.4 369.9,196.2 C375.7,201.0 381.2,207.2 385.6,213.6 C390.0,220.0 393.7,229.0 396.0,234.6 C398.3,240.2 398.3,242.9 399.5,247.0 L320,300 Z" fill="url(#gCyl)"/><path d="M399.5,247.0 C408.0,248.8 417.8,249.8 424.9,252.4 C432.0,255.0 437.4,258.2 442.4,262.4 C447.4,266.6 451.9,271.6 454.8,277.4 C457.7,283.2 458.9,290.5 459.8,297.3 C460.8,304.1 461.3,311.4 460.5,318.0 C459.7,324.6 458.2,331.1 455.0,337.0 C451.8,342.9 446.4,349.3 441.0,353.5 C435.6,357.7 428.4,360.1 422.4,362.2 C416.4,364.3 410.8,364.7 405.0,365.9 L380,330 Z" fill="url(#gCyl)"/></g><g transform="matrix(0.9826,0,0,1,-17.44,-9.15)"><path fill="#1d64b4" d="M158.1,397.6 L167,356 L223,309 L320,290 L399.5,247.0 L405,365.9 Z"/><circle cx="167.2" cy="355.8" r="42.7" fill="url(#gCyl)"/><circle cx="223.4" cy="309.3" r="44.6" fill="url(#gCyl)"/><path d="M232.5,265.0 C234.1,257.8 234.7,250.4 237.2,243.3 C239.7,236.2 242.5,229.4 247.7,222.4 C252.9,215.4 261.3,206.9 268.6,201.4 C275.9,195.9 283.4,192.4 291.3,189.2 C299.2,186.0 308.8,183.5 315.8,182.2 C322.8,180.9 327.4,180.9 333.2,181.3 C339.0,181.7 344.6,182.3 350.7,184.8 C356.8,187.3 364.1,191.4 369.9,196.2 C375.7,201.0 381.2,207.2 385.6,213.6 C390.0,220.0 393.7,229.0 396.0,234.6 C398.3,240.2 398.3,242.9 399.5,247.0 L320,300 Z" fill="url(#gCyl)"/><path d="M399.5,247.0 C408.0,248.8 417.8,249.8 424.9,252.4 C432.0,255.0 437.4,258.2 442.4,262.4 C447.4,266.6 451.9,271.6 454.8,277.4 C457.7,283.2 458.9,290.5 459.8,297.3 C460.8,304.1 461.3,311.4 460.5,318.0 C459.7,324.6 458.2,331.1 455.0,337.0 C451.8,342.9 446.4,349.3 441.0,353.5 C435.6,357.7 428.4,360.1 422.4,362.2 C416.4,364.3 410.8,364.7 405.0,365.9 L380,330 Z" fill="url(#gCyl)"/></g><g transform="matrix(0.9836,0,0,1,-16.41,-8.62)"><path fill="#1d64b4" d="M158.1,397.6 L167,356 L223,309 L320,290 L399.5,247.0 L405,365.9 Z"/><circle cx="167.2" cy="355.8" r="42.7" fill="url(#gCyl)"/><circle cx="223.4" cy="309.3" r="44.6" fill="url(#gCyl)"/><path d="M232.5,265.0 C234.1,257.8 234.7,250.4 237.2,243.3 C239.7,236.2 242.5,229.4 247.7,222.4 C252.9,215.4 261.3,206.9 268.6,201.4 C275.9,195.9 283.4,192.4 291.3,189.2 C299.2,186.0 308.8,183.5 315.8,182.2 C322.8,180.9 327.4,180.9 333.2,181.3 C339.0,181.7 344.6,182.3 350.7,184.8 C356.8,187.3 364.1,191.4 369.9,196.2 C375.7,201.0 381.2,207.2 385.6,213.6 C390.0,220.0 393.7,229.0 396.0,234.6 C398.3,240.2 398.3,242.9 399.5,247.0 L320,300 Z" fill="url(#gCyl)"/><path d="M399.5,247.0 C408.0,248.8 417.8,249.8 424.9,252.4 C432.0,255.0 437.4,258.2 442.4,262.4 C447.4,266.6 451.9,271.6 454.8,277.4 C457.7,283.2 458.9,290.5 459.8,297.3 C460.8,304.1 461.3,311.4 460.5,318.0 C459.7,324.6 458.2,331.1 455.0,337.0 C451.8,342.9 446.4,349.3 441.0,353.5 C435.6,357.7 428.4,360.1 422.4,362.2 C416.4,364.3 410.8,364.7 405.0,365.9 L380,330 Z" fill="url(#gCyl)"/></g><g transform="matrix(0.9846,0,0,1,-15.38,-8.08)"><path fill="#1d64b4" d="M158.1,397.6 L167,356 L223,309 L320,290 L399.5,247.0 L405,365.9 Z"/><circle cx="167.2" cy="355.8" r="42.7" fill="url(#gCyl)"/><circle cx="223.4" cy="309.3" r="44.6" fill="url(#gCyl)"/><path d="M232.5,265.0 C234.1,257.8 234.7,250.4 237.2,243.3 C239.7,236.2 242.5,229.4 247.7,222.4 C252.9,215.4 261.3,206.9 268.6,201.4 C275.9,195.9 283.4,192.4 291.3,189.2 C299.2,186.0 308.8,183.5 315.8,182.2 C322.8,180.9 327.4,180.9 333.2,181.3 C339.0,181.7 344.6,182.3 350.7,184.8 C356.8,187.3 364.1,191.4 369.9,196.2 C375.7,201.0 381.2,207.2 385.6,213.6 C390.0,220.0 393.7,229.0 396.0,234.6 C398.3,240.2 398.3,242.9 399.5,247.0 L320,300 Z" fill="url(#gCyl)"/><path d="M399.5,247.0 C408.0,248.8 417.8,249.8 424.9,252.4 C432.0,255.0 437.4,258.2 442.4,262.4 C447.4,266.6 451.9,271.6 454.8,277.4 C457.7,283.2 458.9,290.5 459.8,297.3 C460.8,304.1 461.3,311.4 460.5,318.0 C459.7,324.6 458.2,331.1 455.0,337.0 C451.8,342.9 446.4,349.3 441.0,353.5 C435.6,357.7 428.4,360.1 422.4,362.2 C416.4,364.3 410.8,364.7 405.0,365.9 L380,330 Z" fill="url(#gCyl)"/></g><g transform="matrix(0.9856,0,0,1,-14.36,-7.54)"><path fill="#1d64b4" d="M158.1,397.6 L167,356 L223,309 L320,290 L399.5,247.0 L405,365.9 Z"/><circle cx="167.2" cy="355.8" r="42.7" fill="url(#gCyl)"/><circle cx="223.4" cy="309.3" r="44.6" fill="url(#gCyl)"/><path d="M232.5,265.0 C234.1,257.8 234.7,250.4 237.2,243.3 C239.7,236.2 242.5,229.4 247.7,222.4 C252.9,215.4 261.3,206.9 268.6,201.4 C275.9,195.9 283.4,192.4 291.3,189.2 C299.2,186.0 308.8,183.5 315.8,182.2 C322.8,180.9 327.4,180.9 333.2,181.3 C339.0,181.7 344.6,182.3 350.7,184.8 C356.8,187.3 364.1,191.4 369.9,196.2 C375.7,201.0 381.2,207.2 385.6,213.6 C390.0,220.0 393.7,229.0 396.0,234.6 C398.3,240.2 398.3,242.9 399.5,247.0 L320,300 Z" fill="url(#gCyl)"/><path d="M399.5,247.0 C408.0,248.8 417.8,249.8 424.9,252.4 C432.0,255.0 437.4,258.2 442.4,262.4 C447.4,266.6 451.9,271.6 454.8,277.4 C457.7,283.2 458.9,290.5 459.8,297.3 C460.8,304.1 461.3,311.4 460.5,318.0 C459.7,324.6 458.2,331.1 455.0,337.0 C451.8,342.9 446.4,349.3 441.0,353.5 C435.6,357.7 428.4,360.1 422.4,362.2 C416.4,364.3 410.8,364.7 405.0,365.9 L380,330 Z" fill="url(#gCyl)"/></g><g transform="matrix(0.9867,0,0,1,-13.33,-7.00)"><path fill="#1d64b4" d="M158.1,397.6 L167,356 L223,309 L320,290 L399.5,247.0 L405,365.9 Z"/><circle cx="167.2" cy="355.8" r="42.7" fill="url(#gCyl)"/><circle cx="223.4" cy="309.3" r="44.6" fill="url(#gCyl)"/><path d="M232.5,265.0 C234.1,257.8 234.7,250.4 237.2,243.3 C239.7,236.2 242.5,229.4 247.7,222.4 C252.9,215.4 261.3,206.9 268.6,201.4 C275.9,195.9 283.4,192.4 291.3,189.2 C299.2,186.0 308.8,183.5 315.8,182.2 C322.8,180.9 327.4,180.9 333.2,181.3 C339.0,181.7 344.6,182.3 350.7,184.8 C356.8,187.3 364.1,191.4 369.9,196.2 C375.7,201.0 381.2,207.2 385.6,213.6 C390.0,220.0 393.7,229.0 396.0,234.6 C398.3,240.2 398.3,242.9 399.5,247.0 L320,300 Z" fill="url(#gCyl)"/><path d="M399.5,247.0 C408.0,248.8 417.8,249.8 424.9,252.4 C432.0,255.0 437.4,258.2 442.4,262.4 C447.4,266.6 451.9,271.6 454.8,277.4 C457.7,283.2 458.9,290.5 459.8,297.3 C460.8,304.1 461.3,311.4 460.5,318.0 C459.7,324.6 458.2,331.1 455.0,337.0 C451.8,342.9 446.4,349.3 441.0,353.5 C435.6,357.7 428.4,360.1 422.4,362.2 C416.4,364.3 410.8,364.7 405.0,365.9 L380,330 Z" fill="url(#gCyl)"/></g><g transform="matrix(0.9877,0,0,1,-12.31,-6.46)"><path fill="#1d64b4" d="M158.1,397.6 L167,356 L223,309 L320,290 L399.5,247.0 L405,365.9 Z"/><circle cx="167.2" cy="355.8" r="42.7" fill="url(#gCyl)"/><circle cx="223.4" cy="309.3" r="44.6" fill="url(#gCyl)"/><path d="M232.5,265.0 C234.1,257.8 234.7,250.4 237.2,243.3 C239.7,236.2 242.5,229.4 247.7,222.4 C252.9,215.4 261.3,206.9 268.6,201.4 C275.9,195.9 283.4,192.4 291.3,189.2 C299.2,186.0 308.8,183.5 315.8,182.2 C322.8,180.9 327.4,180.9 333.2,181.3 C339.0,181.7 344.6,182.3 350.7,184.8 C356.8,187.3 364.1,191.4 369.9,196.2 C375.7,201.0 381.2,207.2 385.6,213.6 C390.0,220.0 393.7,229.0 396.0,234.6 C398.3,240.2 398.3,242.9 399.5,247.0 L320,300 Z" fill="url(#gCyl)"/><path d="M399.5,247.0 C408.0,248.8 417.8,249.8 424.9,252.4 C432.0,255.0 437.4,258.2 442.4,262.4 C447.4,266.6 451.9,271.6 454.8,277.4 C457.7,283.2 458.9,290.5 459.8,297.3 C460.8,304.1 461.3,311.4 460.5,318.0 C459.7,324.6 458.2,331.1 455.0,337.0 C451.8,342.9 446.4,349.3 441.0,353.5 C435.6,357.7 428.4,360.1 422.4,362.2 C416.4,364.3 410.8,364.7 405.0,365.9 L380,330 Z" fill="url(#gCyl)"/></g><g transform="matrix(0.9887,0,0,1,-11.28,-5.92)"><path fill="#1d64b4" d="M158.1,397.6 L167,356 L223,309 L320,290 L399.5,247.0 L405,365.9 Z"/><circle cx="167.2" cy="355.8" r="42.7" fill="url(#gCyl)"/><circle cx="223.4" cy="309.3" r="44.6" fill="url(#gCyl)"/><path d="M232.5,265.0 C234.1,257.8 234.7,250.4 237.2,243.3 C239.7,236.2 242.5,229.4 247.7,222.4 C252.9,215.4 261.3,206.9 268.6,201.4 C275.9,195.9 283.4,192.4 291.3,189.2 C299.2,186.0 308.8,183.5 315.8,182.2 C322.8,180.9 327.4,180.9 333.2,181.3 C339.0,181.7 344.6,182.3 350.7,184.8 C356.8,187.3 364.1,191.4 369.9,196.2 C375.7,201.0 381.2,207.2 385.6,213.6 C390.0,220.0 393.7,229.0 396.0,234.6 C398.3,240.2 398.3,242.9 399.5,247.0 L320,300 Z" fill="url(#gCyl)"/><path d="M399.5,247.0 C408.0,248.8 417.8,249.8 424.9,252.4 C432.0,255.0 437.4,258.2 442.4,262.4 C447.4,266.6 451.9,271.6 454.8,277.4 C457.7,283.2 458.9,290.5 459.8,297.3 C460.8,304.1 461.3,311.4 460.5,318.0 C459.7,324.6 458.2,331.1 455.0,337.0 C451.8,342.9 446.4,349.3 441.0,353.5 C435.6,357.7 428.4,360.1 422.4,362.2 C416.4,364.3 410.8,364.7 405.0,365.9 L380,330 Z" fill="url(#gCyl)"/></g><g transform="matrix(0.9897,0,0,1,-10.26,-5.38)"><path fill="#1d64b4" d="M158.1,397.6 L167,356 L223,309 L320,290 L399.5,247.0 L405,365.9 Z"/><circle cx="167.2" cy="355.8" r="42.7" fill="url(#gCyl)"/><circle cx="223.4" cy="309.3" r="44.6" fill="url(#gCyl)"/><path d="M232.5,265.0 C234.1,257.8 234.7,250.4 237.2,243.3 C239.7,236.2 242.5,229.4 247.7,222.4 C252.9,215.4 261.3,206.9 268.6,201.4 C275.9,195.9 283.4,192.4 291.3,189.2 C299.2,186.0 308.8,183.5 315.8,182.2 C322.8,180.9 327.4,180.9 333.2,181.3 C339.0,181.7 344.6,182.3 350.7,184.8 C356.8,187.3 364.1,191.4 369.9,196.2 C375.7,201.0 381.2,207.2 385.6,213.6 C390.0,220.0 393.7,229.0 396.0,234.6 C398.3,240.2 398.3,242.9 399.5,247.0 L320,300 Z" fill="url(#gCyl)"/><path d="M399.5,247.0 C408.0,248.8 417.8,249.8 424.9,252.4 C432.0,255.0 437.4,258.2 442.4,262.4 C447.4,266.6 451.9,271.6 454.8,277.4 C457.7,283.2 458.9,290.5 459.8,297.3 C460.8,304.1 461.3,311.4 460.5,318.0 C459.7,324.6 458.2,331.1 455.0,337.0 C451.8,342.9 446.4,349.3 441.0,353.5 C435.6,357.7 428.4,360.1 422.4,362.2 C416.4,364.3 410.8,364.7 405.0,365.9 L380,330 Z" fill="url(#gCyl)"/></g><g transform="matrix(0.9908,0,0,1,-9.23,-4.85)"><path fill="#1d64b4" d="M158.1,397.6 L167,356 L223,309 L320,290 L399.5,247.0 L405,365.9 Z"/><circle cx="167.2" cy="355.8" r="42.7" fill="url(#gCyl)"/><circle cx="223.4" cy="309.3" r="44.6" fill="url(#gCyl)"/><path d="M232.5,265.0 C234.1,257.8 234.7,250.4 237.2,243.3 C239.7,236.2 242.5,229.4 247.7,222.4 C252.9,215.4 261.3,206.9 268.6,201.4 C275.9,195.9 283.4,192.4 291.3,189.2 C299.2,186.0 308.8,183.5 315.8,182.2 C322.8,180.9 327.4,180.9 333.2,181.3 C339.0,181.7 344.6,182.3 350.7,184.8 C356.8,187.3 364.1,191.4 369.9,196.2 C375.7,201.0 381.2,207.2 385.6,213.6 C390.0,220.0 393.7,229.0 396.0,234.6 C398.3,240.2 398.3,242.9 399.5,247.0 L320,300 Z" fill="url(#gCyl)"/><path d="M399.5,247.0 C408.0,248.8 417.8,249.8 424.9,252.4 C432.0,255.0 437.4,258.2 442.4,262.4 C447.4,266.6 451.9,271.6 454.8,277.4 C457.7,283.2 458.9,290.5 459.8,297.3 C460.8,304.1 461.3,311.4 460.5,318.0 C459.7,324.6 458.2,331.1 455.0,337.0 C451.8,342.9 446.4,349.3 441.0,353.5 C435.6,357.7 428.4,360.1 422.4,362.2 C416.4,364.3 410.8,364.7 405.0,365.9 L380,330 Z" fill="url(#gCyl)"/></g><g transform="matrix(0.9918,0,0,1,-8.21,-4.31)"><path fill="#1d64b4" d="M158.1,397.6 L167,356 L223,309 L320,290 L399.5,247.0 L405,365.9 Z"/><circle cx="167.2" cy="355.8" r="42.7" fill="url(#gCyl)"/><circle cx="223.4" cy="309.3" r="44.6" fill="url(#gCyl)"/><path d="M232.5,265.0 C234.1,257.8 234.7,250.4 237.2,243.3 C239.7,236.2 242.5,229.4 247.7,222.4 C252.9,215.4 261.3,206.9 268.6,201.4 C275.9,195.9 283.4,192.4 291.3,189.2 C299.2,186.0 308.8,183.5 315.8,182.2 C322.8,180.9 327.4,180.9 333.2,181.3 C339.0,181.7 344.6,182.3 350.7,184.8 C356.8,187.3 364.1,191.4 369.9,196.2 C375.7,201.0 381.2,207.2 385.6,213.6 C390.0,220.0 393.7,229.0 396.0,234.6 C398.3,240.2 398.3,242.9 399.5,247.0 L320,300 Z" fill="url(#gCyl)"/><path d="M399.5,247.0 C408.0,248.8 417.8,249.8 424.9,252.4 C432.0,255.0 437.4,258.2 442.4,262.4 C447.4,266.6 451.9,271.6 454.8,277.4 C457.7,283.2 458.9,290.5 459.8,297.3 C460.8,304.1 461.3,311.4 460.5,318.0 C459.7,324.6 458.2,331.1 455.0,337.0 C451.8,342.9 446.4,349.3 441.0,353.5 C435.6,357.7 428.4,360.1 422.4,362.2 C416.4,364.3 410.8,364.7 405.0,365.9 L380,330 Z" fill="url(#gCyl)"/></g><g transform="matrix(0.9928,0,0,1,-7.18,-3.77)"><path fill="#1d64b4" d="M158.1,397.6 L167,356 L223,309 L320,290 L399.5,247.0 L405,365.9 Z"/><circle cx="167.2" cy="355.8" r="42.7" fill="url(#gCyl)"/><circle cx="223.4" cy="309.3" r="44.6" fill="url(#gCyl)"/><path d="M232.5,265.0 C234.1,257.8 234.7,250.4 237.2,243.3 C239.7,236.2 242.5,229.4 247.7,222.4 C252.9,215.4 261.3,206.9 268.6,201.4 C275.9,195.9 283.4,192.4 291.3,189.2 C299.2,186.0 308.8,183.5 315.8,182.2 C322.8,180.9 327.4,180.9 333.2,181.3 C339.0,181.7 344.6,182.3 350.7,184.8 C356.8,187.3 364.1,191.4 369.9,196.2 C375.7,201.0 381.2,207.2 385.6,213.6 C390.0,220.0 393.7,229.0 396.0,234.6 C398.3,240.2 398.3,242.9 399.5,247.0 L320,300 Z" fill="url(#gCyl)"/><path d="M399.5,247.0 C408.0,248.8 417.8,249.8 424.9,252.4 C432.0,255.0 437.4,258.2 442.4,262.4 C447.4,266.6 451.9,271.6 454.8,277.4 C457.7,283.2 458.9,290.5 459.8,297.3 C460.8,304.1 461.3,311.4 460.5,318.0 C459.7,324.6 458.2,331.1 455.0,337.0 C451.8,342.9 446.4,349.3 441.0,353.5 C435.6,357.7 428.4,360.1 422.4,362.2 C416.4,364.3 410.8,364.7 405.0,365.9 L380,330 Z" fill="url(#gCyl)"/></g><g transform="matrix(0.9938,0,0,1,-6.15,-3.23)"><path fill="#1d64b4" d="M158.1,397.6 L167,356 L223,309 L320,290 L399.5,247.0 L405,365.9 Z"/><circle cx="167.2" cy="355.8" r="42.7" fill="url(#gCyl)"/><circle cx="223.4" cy="309.3" r="44.6" fill="url(#gCyl)"/><path d="M232.5,265.0 C234.1,257.8 234.7,250.4 237.2,243.3 C239.7,236.2 242.5,229.4 247.7,222.4 C252.9,215.4 261.3,206.9 268.6,201.4 C275.9,195.9 283.4,192.4 291.3,189.2 C299.2,186.0 308.8,183.5 315.8,182.2 C322.8,180.9 327.4,180.9 333.2,181.3 C339.0,181.7 344.6,182.3 350.7,184.8 C356.8,187.3 364.1,191.4 369.9,196.2 C375.7,201.0 381.2,207.2 385.6,213.6 C390.0,220.0 393.7,229.0 396.0,234.6 C398.3,240.2 398.3,242.9 399.5,247.0 L320,300 Z" fill="url(#gCyl)"/><path d="M399.5,247.0 C408.0,248.8 417.8,249.8 424.9,252.4 C432.0,255.0 437.4,258.2 442.4,262.4 C447.4,266.6 451.9,271.6 454.8,277.4 C457.7,283.2 458.9,290.5 459.8,297.3 C460.8,304.1 461.3,311.4 460.5,318.0 C459.7,324.6 458.2,331.1 455.0,337.0 C451.8,342.9 446.4,349.3 441.0,353.5 C435.6,357.7 428.4,360.1 422.4,362.2 C416.4,364.3 410.8,364.7 405.0,365.9 L380,330 Z" fill="url(#gCyl)"/></g><g transform="matrix(0.9949,0,0,1,-5.13,-2.69)"><path fill="#1d64b4" d="M158.1,397.6 L167,356 L223,309 L320,290 L399.5,247.0 L405,365.9 Z"/><circle cx="167.2" cy="355.8" r="42.7" fill="url(#gCyl)"/><circle cx="223.4" cy="309.3" r="44.6" fill="url(#gCyl)"/><path d="M232.5,265.0 C234.1,257.8 234.7,250.4 237.2,243.3 C239.7,236.2 242.5,229.4 247.7,222.4 C252.9,215.4 261.3,206.9 268.6,201.4 C275.9,195.9 283.4,192.4 291.3,189.2 C299.2,186.0 308.8,183.5 315.8,182.2 C322.8,180.9 327.4,180.9 333.2,181.3 C339.0,181.7 344.6,182.3 350.7,184.8 C356.8,187.3 364.1,191.4 369.9,196.2 C375.7,201.0 381.2,207.2 385.6,213.6 C390.0,220.0 393.7,229.0 396.0,234.6 C398.3,240.2 398.3,242.9 399.5,247.0 L320,300 Z" fill="url(#gCyl)"/><path d="M399.5,247.0 C408.0,248.8 417.8,249.8 424.9,252.4 C432.0,255.0 437.4,258.2 442.4,262.4 C447.4,266.6 451.9,271.6 454.8,277.4 C457.7,283.2 458.9,290.5 459.8,297.3 C460.8,304.1 461.3,311.4 460.5,318.0 C459.7,324.6 458.2,331.1 455.0,337.0 C451.8,342.9 446.4,349.3 441.0,353.5 C435.6,357.7 428.4,360.1 422.4,362.2 C416.4,364.3 410.8,364.7 405.0,365.9 L380,330 Z" fill="url(#gCyl)"/></g><g transform="matrix(0.9959,0,0,1,-4.10,-2.15)"><path fill="#1d64b4" d="M158.1,397.6 L167,356 L223,309 L320,290 L399.5,247.0 L405,365.9 Z"/><circle cx="167.2" cy="355.8" r="42.7" fill="url(#gCyl)"/><circle cx="223.4" cy="309.3" r="44.6" fill="url(#gCyl)"/><path d="M232.5,265.0 C234.1,257.8 234.7,250.4 237.2,243.3 C239.7,236.2 242.5,229.4 247.7,222.4 C252.9,215.4 261.3,206.9 268.6,201.4 C275.9,195.9 283.4,192.4 291.3,189.2 C299.2,186.0 308.8,183.5 315.8,182.2 C322.8,180.9 327.4,180.9 333.2,181.3 C339.0,181.7 344.6,182.3 350.7,184.8 C356.8,187.3 364.1,191.4 369.9,196.2 C375.7,201.0 381.2,207.2 385.6,213.6 C390.0,220.0 393.7,229.0 396.0,234.6 C398.3,240.2 398.3,242.9 399.5,247.0 L320,300 Z" fill="url(#gCyl)"/><path d="M399.5,247.0 C408.0,248.8 417.8,249.8 424.9,252.4 C432.0,255.0 437.4,258.2 442.4,262.4 C447.4,266.6 451.9,271.6 454.8,277.4 C457.7,283.2 458.9,290.5 459.8,297.3 C460.8,304.1 461.3,311.4 460.5,318.0 C459.7,324.6 458.2,331.1 455.0,337.0 C451.8,342.9 446.4,349.3 441.0,353.5 C435.6,357.7 428.4,360.1 422.4,362.2 C416.4,364.3 410.8,364.7 405.0,365.9 L380,330 Z" fill="url(#gCyl)"/></g><g transform="matrix(0.9969,0,0,1,-3.08,-1.62)"><path fill="#1d64b4" d="M158.1,397.6 L167,356 L223,309 L320,290 L399.5,247.0 L405,365.9 Z"/><circle cx="167.2" cy="355.8" r="42.7" fill="url(#gCyl)"/><circle cx="223.4" cy="309.3" r="44.6" fill="url(#gCyl)"/><path d="M232.5,265.0 C234.1,257.8 234.7,250.4 237.2,243.3 C239.7,236.2 242.5,229.4 247.7,222.4 C252.9,215.4 261.3,206.9 268.6,201.4 C275.9,195.9 283.4,192.4 291.3,189.2 C299.2,186.0 308.8,183.5 315.8,182.2 C322.8,180.9 327.4,180.9 333.2,181.3 C339.0,181.7 344.6,182.3 350.7,184.8 C356.8,187.3 364.1,191.4 369.9,196.2 C375.7,201.0 381.2,207.2 385.6,213.6 C390.0,220.0 393.7,229.0 396.0,234.6 C398.3,240.2 398.3,242.9 399.5,247.0 L320,300 Z" fill="url(#gCyl)"/><path d="M399.5,247.0 C408.0,248.8 417.8,249.8 424.9,252.4 C432.0,255.0 437.4,258.2 442.4,262.4 C447.4,266.6 451.9,271.6 454.8,277.4 C457.7,283.2 458.9,290.5 459.8,297.3 C460.8,304.1 461.3,311.4 460.5,318.0 C459.7,324.6 458.2,331.1 455.0,337.0 C451.8,342.9 446.4,349.3 441.0,353.5 C435.6,357.7 428.4,360.1 422.4,362.2 C416.4,364.3 410.8,364.7 405.0,365.9 L380,330 Z" fill="url(#gCyl)"/></g><g transform="matrix(0.9979,0,0,1,-2.05,-1.08)"><path fill="#1d64b4" d="M158.1,397.6 L167,356 L223,309 L320,290 L399.5,247.0 L405,365.9 Z"/><circle cx="167.2" cy="355.8" r="42.7" fill="url(#gCyl)"/><circle cx="223.4" cy="309.3" r="44.6" fill="url(#gCyl)"/><path d="M232.5,265.0 C234.1,257.8 234.7,250.4 237.2,243.3 C239.7,236.2 242.5,229.4 247.7,222.4 C252.9,215.4 261.3,206.9 268.6,201.4 C275.9,195.9 283.4,192.4 291.3,189.2 C299.2,186.0 308.8,183.5 315.8,182.2 C322.8,180.9 327.4,180.9 333.2,181.3 C339.0,181.7 344.6,182.3 350.7,184.8 C356.8,187.3 364.1,191.4 369.9,196.2 C375.7,201.0 381.2,207.2 385.6,213.6 C390.0,220.0 393.7,229.0 396.0,234.6 C398.3,240.2 398.3,242.9 399.5,247.0 L320,300 Z" fill="url(#gCyl)"/><path d="M399.5,247.0 C408.0,248.8 417.8,249.8 424.9,252.4 C432.0,255.0 437.4,258.2 442.4,262.4 C447.4,266.6 451.9,271.6 454.8,277.4 C457.7,283.2 458.9,290.5 459.8,297.3 C460.8,304.1 461.3,311.4 460.5,318.0 C459.7,324.6 458.2,331.1 455.0,337.0 C451.8,342.9 446.4,349.3 441.0,353.5 C435.6,357.7 428.4,360.1 422.4,362.2 C416.4,364.3 410.8,364.7 405.0,365.9 L380,330 Z" fill="url(#gCyl)"/></g><g transform="matrix(0.9990,0,0,1,-1.03,-0.54)"><path fill="#1d64b4" d="M158.1,397.6 L167,356 L223,309 L320,290 L399.5,247.0 L405,365.9 Z"/><circle cx="167.2" cy="355.8" r="42.7" fill="url(#gCyl)"/><circle cx="223.4" cy="309.3" r="44.6" fill="url(#gCyl)"/><path d="M232.5,265.0 C234.1,257.8 234.7,250.4 237.2,243.3 C239.7,236.2 242.5,229.4 247.7,222.4 C252.9,215.4 261.3,206.9 268.6,201.4 C275.9,195.9 283.4,192.4 291.3,189.2 C299.2,186.0 308.8,183.5 315.8,182.2 C322.8,180.9 327.4,180.9 333.2,181.3 C339.0,181.7 344.6,182.3 350.7,184.8 C356.8,187.3 364.1,191.4 369.9,196.2 C375.7,201.0 381.2,207.2 385.6,213.6 C390.0,220.0 393.7,229.0 396.0,234.6 C398.3,240.2 398.3,242.9 399.5,247.0 L320,300 Z" fill="url(#gCyl)"/><path d="M399.5,247.0 C408.0,248.8 417.8,249.8 424.9,252.4 C432.0,255.0 437.4,258.2 442.4,262.4 C447.4,266.6 451.9,271.6 454.8,277.4 C457.7,283.2 458.9,290.5 459.8,297.3 C460.8,304.1 461.3,311.4 460.5,318.0 C459.7,324.6 458.2,331.1 455.0,337.0 C451.8,342.9 446.4,349.3 441.0,353.5 C435.6,357.7 428.4,360.1 422.4,362.2 C416.4,364.3 410.8,364.7 405.0,365.9 L380,330 Z" fill="url(#gCyl)"/></g><g transform="matrix(1.0000,0,0,1,-0.00,-0.00)"><path fill="#1d64b4" d="M158.1,397.6 L167,356 L223,309 L320,290 L399.5,247.0 L405,365.9 Z"/><circle cx="167.2" cy="355.8" r="42.7" fill="url(#gCyl)"/><circle cx="223.4" cy="309.3" r="44.6" fill="url(#gCyl)"/><path d="M232.5,265.0 C234.1,257.8 234.7,250.4 237.2,243.3 C239.7,236.2 242.5,229.4 247.7,222.4 C252.9,215.4 261.3,206.9 268.6,201.4 C275.9,195.9 283.4,192.4 291.3,189.2 C299.2,186.0 308.8,183.5 315.8,182.2 C322.8,180.9 327.4,180.9 333.2,181.3 C339.0,181.7 344.6,182.3 350.7,184.8 C356.8,187.3 364.1,191.4 369.9,196.2 C375.7,201.0 381.2,207.2 385.6,213.6 C390.0,220.0 393.7,229.0 396.0,234.6 C398.3,240.2 398.3,242.9 399.5,247.0 L320,300 Z" fill="url(#gCyl)"/><path d="M399.5,247.0 C408.0,248.8 417.8,249.8 424.9,252.4 C432.0,255.0 437.4,258.2 442.4,262.4 C447.4,266.6 451.9,271.6 454.8,277.4 C457.7,283.2 458.9,290.5 459.8,297.3 C460.8,304.1 461.3,311.4 460.5,318.0 C459.7,324.6 458.2,331.1 455.0,337.0 C451.8,342.9 446.4,349.3 441.0,353.5 C435.6,357.7 428.4,360.1 422.4,362.2 C416.4,364.3 410.8,364.7 405.0,365.9 L380,330 Z" fill="url(#gCyl)"/></g></g>
<path d="M395,236 L428,253.5 L399,249 Z" fill="#2a6cc0"/>
<path d="M179.2,314.8 A44.6,44.6 0 0,1 232.5,265.0 C234.1,257.8 234.7,250.4 237.2,243.3 C239.7,236.2 242.5,229.4 247.7,222.4 C252.9,215.4 261.3,206.9 268.6,201.4 C275.9,195.9 283.4,192.4 291.3,189.2 C299.2,186.0 308.8,183.5 315.8,182.2 C322.8,180.9 327.4,180.9 333.2,181.3 C339.0,181.7 344.6,182.3 350.7,184.8 C356.8,187.3 364.1,191.4 369.9,196.2 C375.7,201.0 381.2,207.2 385.6,213.6 C390.0,220.0 393.7,229.0 396.0,234.6 C398.3,240.2 398.3,242.9 399.5,247.0 C408.0,248.8 417.8,249.8 424.9,252.4 C432.0,255.0 437.4,258.2 442.4,262.4 C447.4,266.6 451.9,271.6 454.8,277.4 C457.7,283.2 458.9,290.5 459.8,297.3 C460.8,304.1 461.3,311.4 460.5,318.0 C459.7,324.6 458.2,331.1 455.0,337.0 C451.8,342.9 446.4,349.3 441.0,353.5 C435.6,357.7 428.4,360.1 422.4,362.2 C416.4,364.3 410.8,364.7 405.0,365.9 L158.1,397.6 A42.7,42.7 0 1,1 179.2,314.8 Z" fill="url(#gFace)"/>
<clipPath id="faceClip"><path d="M179.2,314.8 A44.6,44.6 0 0,1 232.5,265.0 C234.1,257.8 234.7,250.4 237.2,243.3 C239.7,236.2 242.5,229.4 247.7,222.4 C252.9,215.4 261.3,206.9 268.6,201.4 C275.9,195.9 283.4,192.4 291.3,189.2 C299.2,186.0 308.8,183.5 315.8,182.2 C322.8,180.9 327.4,180.9 333.2,181.3 C339.0,181.7 344.6,182.3 350.7,184.8 C356.8,187.3 364.1,191.4 369.9,196.2 C375.7,201.0 381.2,207.2 385.6,213.6 C390.0,220.0 393.7,229.0 396.0,234.6 C398.3,240.2 398.3,242.9 399.5,247.0 C408.0,248.8 417.8,249.8 424.9,252.4 C432.0,255.0 437.4,258.2 442.4,262.4 C447.4,266.6 451.9,271.6 454.8,277.4 C457.7,283.2 458.9,290.5 459.8,297.3 C460.8,304.1 461.3,311.4 460.5,318.0 C459.7,324.6 458.2,331.1 455.0,337.0 C451.8,342.9 446.4,349.3 441.0,353.5 C435.6,357.7 428.4,360.1 422.4,362.2 C416.4,364.3 410.8,364.7 405.0,365.9 L158.1,397.6 A42.7,42.7 0 1,1 179.2,314.8 Z"/></clipPath>
<path clip-path="url(#faceClip)" d="M280,170 L480,170 L480,400 L372,400 Z" fill="#ffffff" opacity="0.07"/>
<linearGradient id="gLine" x1="150" y1="0" x2="460" y2="0" gradientUnits="userSpaceOnUse"><stop offset="0" stop-color="#4cc6f0"/><stop offset="0.6" stop-color="#7ee0f8"/><stop offset="1" stop-color="#d8f6ff"/></linearGradient>
<g fill="none" stroke="url(#gLine)" stroke-width="1" opacity="0.85"><path d="M269.5,204 L287,225 L287,256 L289.7,264.3"/><path d="M207.4,282.4 L248.6,280 L256,269.5 L283.5,267.4 L289.7,264.3"/><path d="M214.4,323.6 L245,321.8 L273,294.6 L291,290"/><path d="M214.4,326 L228,330 L276.5,325.3"/><path d="M292.9,300.3 L276,306 L273,312 L273,350.4 L283.5,357.4 L296.7,356.7"/><path d="M190,292 L190,400"/><path d="M151,322.5 L188.6,318.4"/><path d="M208.5,301 L212,320"/><path d="M356.7,187 L359.5,235.8 L360.2,263.7 L342.8,277.7"/><path d="M363.7,249.8 L402,246.3"/><path d="M374.9,234.8 L395,232.3"/><path d="M374.9,234.8 L375.9,263.7 L398.6,284.6 L399.3,321.3 L398.6,337 L414.3,353.4"/><path d="M379.4,303.8 L395,302 L412.5,284.6 L426.5,274.2"/><path d="M381.8,346.7 L420,346.7 L440,336"/><path d="M332.3,305.6 L334,342.2 L335.8,368.3 L344.5,373.6 L395,368.3 L414.3,364.9"/><path d="M332.3,305.6 L325.3,323 L301,337 L297.4,356.1"/><path d="M450,262 L438,270 L432,300 L425,330 L420,346"/><path d="M190,378 L170,392"/></g>
<rect x="201.9" y="276.9" width="11" height="11" fill="#5ccbec" opacity="0.35"/>
<rect x="203.0" y="295.5" width="11" height="11" fill="#5ccbec" opacity="0.35"/>
<rect x="208.9" y="318.1" width="11" height="11" fill="#5ccbec" opacity="0.36"/>
<rect x="183.1" y="312.9" width="11" height="11" fill="#5ccbec" opacity="0.32"/>
<rect x="187.3" y="372.8" width="11" height="11" fill="#5ccbec" opacity="0.32"/>
<rect x="291.2" y="351.2" width="11" height="11" fill="#5ccbec" opacity="0.50"/>
<rect x="373.9" y="298.3" width="11" height="11" fill="#8ad8ee" opacity="0.65"/>
<rect x="393.8" y="315.8" width="11" height="11" fill="#8ad8ee" opacity="0.65"/>
<rect x="376.3" y="341.2" width="11" height="11" fill="#8ad8ee" opacity="0.65"/>
<rect x="328.5" y="336.7" width="11" height="11" fill="#5ccbec" opacity="0.57"/>
<rect x="291.9" y="350.6" width="11" height="11" fill="#5ccbec" opacity="0.51"/>
<rect x="408.8" y="347.9" width="11" height="11" fill="#8ad8ee" opacity="0.65"/>
<rect x="378.1" y="357.6" width="11" height="11" fill="#8ad8ee" opacity="0.65"/>
<rect x="146.5" y="379.5" width="11" height="11" fill="#5ccbec" opacity="0.30"/>
<linearGradient id="gRim" x1="120" y1="0" x2="465" y2="0" gradientUnits="userSpaceOnUse"><stop offset="0" stop-color="#3ec6f4" stop-opacity="1"/><stop offset="0.6" stop-color="#48ccf4" stop-opacity="0.9"/><stop offset="0.8" stop-color="#8adcf4" stop-opacity="0.5"/><stop offset="1" stop-color="#ffffff" stop-opacity="0"/></linearGradient>
<path d="M179.2,314.8 A44.6,44.6 0 0,1 232.5,265.0 C234.1,257.8 234.7,250.4 237.2,243.3 C239.7,236.2 242.5,229.4 247.7,222.4 C252.9,215.4 261.3,206.9 268.6,201.4 C275.9,195.9 283.4,192.4 291.3,189.2 C299.2,186.0 308.8,183.5 315.8,182.2 C322.8,180.9 327.4,180.9 333.2,181.3 C339.0,181.7 344.6,182.3 350.7,184.8 C356.8,187.3 364.1,191.4 369.9,196.2 C375.7,201.0 381.2,207.2 385.6,213.6 C390.0,220.0 393.7,229.0 396.0,234.6 C398.3,240.2 398.3,242.9 399.5,247.0 C408.0,248.8 417.8,249.8 424.9,252.4 C432.0,255.0 437.4,258.2 442.4,262.4 C447.4,266.6 451.9,271.6 454.8,277.4 C457.7,283.2 458.9,290.5 459.8,297.3 C460.8,304.1 461.3,311.4 460.5,318.0 C459.7,324.6 458.2,331.1 455.0,337.0 C451.8,342.9 446.4,349.3 441.0,353.5 C435.6,357.7 428.4,360.1 422.4,362.2 C416.4,364.3 410.8,364.7 405.0,365.9 L158.1,397.6 A42.7,42.7 0 1,1 179.2,314.8 Z" fill="none" stroke="url(#gRim)" stroke-width="1.5"/>
<g fill="url(#gWGlow)">
<circle cx="291" cy="283" r="30"/>
<circle cx="332" cy="306" r="24"/>
<circle cx="367" cy="236" r="22"/>
<circle cx="350" cy="285" r="16"/>
</g>
<path d="M292,283 L342.8,279.4 M332.3,305.6 L363.7,267.2" stroke="#ffffff" stroke-width="1.4" opacity="0.9"/>
<rect x="285.5" y="258.7" width="10" height="10" fill="#f4fdff" opacity="0.95"/>
<rect x="287.2" y="277.9" width="10" height="10" fill="#f4fdff" opacity="0.95"/>
<rect x="287.9" y="295.3" width="10" height="10" fill="#f4fdff" opacity="0.95"/>
<rect x="327.3" y="300.6" width="10" height="10" fill="#f4fdff" opacity="0.95"/>
<rect x="354.5" y="230.8" width="10" height="10" fill="#f4fdff" opacity="0.95"/>
<rect x="369.9" y="229.8" width="10" height="10" fill="#f4fdff" opacity="0.95"/>
<circle cx="436" cy="276.3" r="12.8" fill="#fff" stroke="#146eb9" stroke-width="2.2"/>
<circle cx="436" cy="276.3" r="7.3" fill="#146eb9"/>
</svg>
<svg width="1673" height="602" viewBox="0 0 1673 602" fill="none" stroke="#2a7cc4" stroke-width="1.3">
<rect x="528.5" y="55.5" width="53.0" height="57.0"/>
<rect x="528.5" y="133.5" width="53.0" height="57.0"/>
<rect x="528.5" y="211.5" width="53.0" height="61.5"/>
<rect x="528.5" y="294.5" width="53.0" height="57.0"/>
<rect x="528.5" y="372.5" width="53.0" height="94.5"/>
<rect x="528.5" y="488" width="53.0" height="59.5"/>
<rect x="593.5" y="55.5" width="323.0" height="57.0"/>
<rect x="991" y="55.5" width="307.5" height="57.0"/>
<rect x="1315" y="55.5" width="308.0" height="57.0"/>
<rect x="593.5" y="133.5" width="323.0" height="57.0"/>
<rect x="991" y="133.5" width="307.5" height="57.0"/>
<rect x="1315" y="133.5" width="308.0" height="57.0"/>
<rect x="593.5" y="212.5" width="155.0" height="23.0"/>
<rect x="762" y="212.5" width="154.5" height="23.0"/>
<rect x="990.5" y="212.5" width="123.0" height="23.0"/>
<rect x="1125.8" y="212.5" width="122.7" height="23.0"/>
<rect x="1259.5" y="212.5" width="122.7" height="23.0"/>
<rect x="593.5" y="247.5" width="155.0" height="23.5"/>
<rect x="762" y="247.5" width="154.5" height="23.5"/>
<rect x="990.5" y="247.5" width="123.0" height="23.5"/>
<rect x="1125.8" y="247.5" width="122.7" height="23.5"/>
<rect x="1259.5" y="247.5" width="122.7" height="23.5"/>
<rect x="1392.5" y="212.5" width="231.0" height="59.0"/>
<rect x="593" y="372.5" width="154.5" height="23.5"/>
<rect x="761.5" y="372.5" width="154.5" height="23.5"/>
<rect x="990" y="372.5" width="123.0" height="23.5"/>
<rect x="1124" y="372.5" width="123.0" height="23.5"/>
<rect x="1257.5" y="372.5" width="123.5" height="23.5"/>
<rect x="593" y="408" width="154.5" height="23.5"/>
<rect x="761.5" y="408" width="154.5" height="23.5"/>
<rect x="990" y="408" width="123.0" height="23.5"/>
<rect x="1124" y="408" width="123.0" height="23.5"/>
<rect x="1257.5" y="408" width="123.5" height="23.5"/>
<rect x="593" y="443.5" width="154.5" height="23.5"/>
<rect x="761.5" y="443.5" width="154.5" height="23.5"/>
<rect x="990" y="443.5" width="123.0" height="23.5"/>
<rect x="1124" y="443.5" width="123.0" height="23.5"/>
<rect x="1257.5" y="443.5" width="123.5" height="23.5"/>
<rect x="1391.5" y="372.5" width="231.0" height="94.5"/>
<rect x="594" y="488.5" width="154.5" height="24.0"/>
<rect x="762" y="488.5" width="154.5" height="24.0"/>
<rect x="990.5" y="488.5" width="123.5" height="24.0"/>
<rect x="1124.5" y="488.5" width="123.5" height="24.0"/>
<rect x="1258.5" y="488.5" width="123.0" height="24.0"/>
<rect x="1392.5" y="488.5" width="123.0" height="24.0"/>
<rect x="1526.5" y="488.5" width="98.0" height="24.0"/>
<rect x="594" y="524" width="154.5" height="23.5"/>
<rect x="762" y="524" width="154.5" height="23.5"/>
<rect x="990.5" y="524" width="123.5" height="23.5"/>
<rect x="1124.5" y="524" width="123.5" height="23.5"/>
<rect x="1258.5" y="524" width="123.0" height="23.5"/>
<rect x="1392.5" y="524" width="123.0" height="23.5"/>
<rect x="1526.5" y="524" width="98.0" height="23.5"/>
<path d="M483 84V518M483 84H528.5M483 162H528.5M483 242H528.5M483 323H528.5M483 420H528.5M483 518H528.5M449 276.5H483"/>
<path d="M593.5 294.5H1338L1360 323L1338 351.5H593.5Z"/>
<path d="M1360.2 294.5H1386.0L1407.8 323L1386.0 351.5H1360.2L1382.2 323Z"/>
<path d="M1403.4 294.5H1429.2L1451.0 323L1429.2 351.5H1403.4L1425.4 323Z"/>
<path d="M1446.5 294.5H1472.3L1494.1 323L1472.3 351.5H1446.5L1468.5 323Z"/>
<path d="M1489.7 294.5H1515.5L1537.3 323L1515.5 351.5H1489.7L1511.7 323Z"/>
<path d="M1532.8 294.5H1558.6L1580.4 323L1558.6 351.5H1532.8L1554.8 323Z"/>
<path d="M1576.0 294.5H1601.8L1623.6 323L1601.8 351.5H1576.0L1598.0 323Z"/>
</svg>
<div style="position:absolute;left:58.5px;top:22px;width:8.4px;height:8.4px;border-radius:50%;background:#146eb9"></div>
<div style="position:absolute;left:75.7px;top:15px;font-size:19.8px;line-height:24px;letter-spacing:0.8px;color:#146eb9;-webkit-text-stroke:0.3px #146eb9;">系统框架</div>
<div style="position:absolute;left:162.5px;top:19.5px;font-size:14px;line-height:16px;color:#3584c8;transform:scaleX(0.93);transform-origin:0 0;">System framework</div>
<div class="lb" style="left:528.5px;top:55.5px;width:53.0px;height:57.0px">多种<br>展现</div>
<div class="lb" style="left:528.5px;top:133.5px;width:53.0px;height:57.0px">三级<br>平台</div>
<div class="lb" style="left:528.5px;top:211.5px;width:53.0px;height:61.5px">数据<br>分析</div>
<div class="lb" style="left:528.5px;top:294.5px;width:53.0px;height:57.0px">网络<br>交换</div>
<div class="lb" style="left:528.5px;top:372.5px;width:53.0px;height:94.5px">应用<br>软件</div>
<div class="lb" style="left:528.5px;top:488px;width:53.0px;height:59.5px">智能<br>硬件</div>
<div class="t" style="left:593.5px;top:55.5px;width:323.0px;height:57.0px">Web端展现</div>
<div class="t" style="left:991px;top:55.5px;width:307.5px;height:57.0px">指挥级看板</div>
<div class="t" style="left:1315px;top:55.5px;width:308.0px;height:57.0px">移动端应用</div>
<div class="t" style="left:593.5px;top:133.5px;width:323.0px;height:57.0px">监管单位智慧平台</div>
<div class="t" style="left:991px;top:133.5px;width:307.5px;height:57.0px">企业级智慧平台</div>
<div class="t" style="left:1315px;top:133.5px;width:308.0px;height:57.0px">项目级智慧平台</div>
<div class="t" style="left:593.5px;top:212.5px;width:155.0px;height:23.0px">人力资源统筹</div>
<div class="t" style="left:762px;top:212.5px;width:154.5px;height:23.0px">绿色施工</div>
<div class="t" style="left:990.5px;top:212.5px;width:123.0px;height:23.0px">AI可视化施工</div>
<div class="t" style="left:1125.8px;top:212.5px;width:122.7px;height:23.0px">生产力数字升级</div>
<div class="t" style="left:1259.5px;top:212.5px;width:122.7px;height:23.0px">智能项目管控</div>
<div class="t" style="left:593.5px;top:247.5px;width:155.0px;height:23.5px">劳务用工协调</div>
<div class="t" style="left:762px;top:247.5px;width:154.5px;height:23.5px">数字质量化管控</div>
<div class="t" style="left:990.5px;top:247.5px;width:123.0px;height:23.5px">智能生产管理</div>
<div class="t" style="left:1125.8px;top:247.5px;width:122.7px;height:23.5px">可视化安全管理</div>
<div class="t" style="left:1259.5px;top:247.5px;width:122.7px;height:23.5px">智能多方协调</div>
<div class="t" style="left:1392.5px;top:212.5px;width:231.0px;height:59.0px">第三方数据共享</div>
<div class="t" style="left:593px;top:372.5px;width:154.5px;height:23.5px">劳务实名制</div>
<div class="t" style="left:761.5px;top:372.5px;width:154.5px;height:23.5px">培训系统</div>
<div class="t" style="left:990px;top:372.5px;width:123.0px;height:23.5px">环境监测系统</div>
<div class="t" style="left:1124px;top:372.5px;width:123.0px;height:23.5px">物料计量系统</div>
<div class="t" style="left:1257.5px;top:372.5px;width:123.5px;height:23.5px">人员定位系统</div>
<div class="t" style="left:593px;top:408px;width:154.5px;height:23.5px">视频监控系统</div>
<div class="t" style="left:761.5px;top:408px;width:154.5px;height:23.5px">工资代发系统</div>
<div class="t" style="left:990px;top:408px;width:123.0px;height:23.5px">塔吊维护系统</div>
<div class="t" style="left:1124px;top:408px;width:123.0px;height:23.5px">车辆管理系统</div>
<div class="t" style="left:1257.5px;top:408px;width:123.5px;height:23.5px">质量管理系统</div>
<div class="t" style="left:593px;top:443.5px;width:154.5px;height:23.5px">保险系统</div>
<div class="t" style="left:761.5px;top:443.5px;width:154.5px;height:23.5px">智能可视化</div>
<div class="t" style="left:990px;top:443.5px;width:123.0px;height:23.5px">会议系统</div>
<div class="t" style="left:1124px;top:443.5px;width:123.0px;height:23.5px">成本控制系统</div>
<div class="t" style="left:1257.5px;top:443.5px;width:123.5px;height:23.5px">其它定制化</div>
<div class="t wide" style="left:1391.5px;top:372.5px;width:231.0px;height:94.5px">第三方接入系统</div>
<div class="t" style="left:594px;top:488.5px;width:154.5px;height:24.0px">生物识别设备</div>
<div class="t" style="left:762px;top:488.5px;width:154.5px;height:24.0px">智能安全帽</div>
<div class="t" style="left:990.5px;top:488.5px;width:123.5px;height:24.0px">高支模监测</div>
<div class="t" style="left:1124.5px;top:488.5px;width:123.5px;height:24.0px">温湿度监测</div>
<div class="t" style="left:1258.5px;top:488.5px;width:123.0px;height:24.0px">升降机监测</div>
<div class="t" style="left:1392.5px;top:488.5px;width:123.0px;height:24.0px">塔机远程操作</div>
<div class="t" style="left:1526.5px;top:488.5px;width:98.0px;height:24.0px">智能车辆衡</div>
<div class="t" style="left:594px;top:524px;width:154.5px;height:23.5px">视频监控设备</div>
<div class="t" style="left:762px;top:524px;width:154.5px;height:23.5px">深基坑监测</div>
<div class="t" style="left:990.5px;top:524px;width:123.5px;height:23.5px">扬尘监测</div>
<div class="t" style="left:1124.5px;top:524px;width:123.5px;height:23.5px">塔吊运行监测</div>
<div class="t" style="left:1258.5px;top:524px;width:123.0px;height:23.5px">吊钩可视化</div>
<div class="t" style="left:1392.5px;top:524px;width:123.0px;height:23.5px">车辆识别</div>
<div class="t" style="left:1526.5px;top:524px;width:98.0px;height:23.5px">智能手环</div>
<div class="t" style="left:783px;top:310px;height:26px;font-size:16.2px;letter-spacing:0.15px;color:#4a4a4a">4G / 5G / LoRa /</div>
<div class="t" style="left:997.5px;top:310px;height:26px;font-size:16.9px;letter-spacing:0px;color:#4a4a4a">NB-IoT / Wi-Fi / UDP / WAN</div>
</body>
</html>
